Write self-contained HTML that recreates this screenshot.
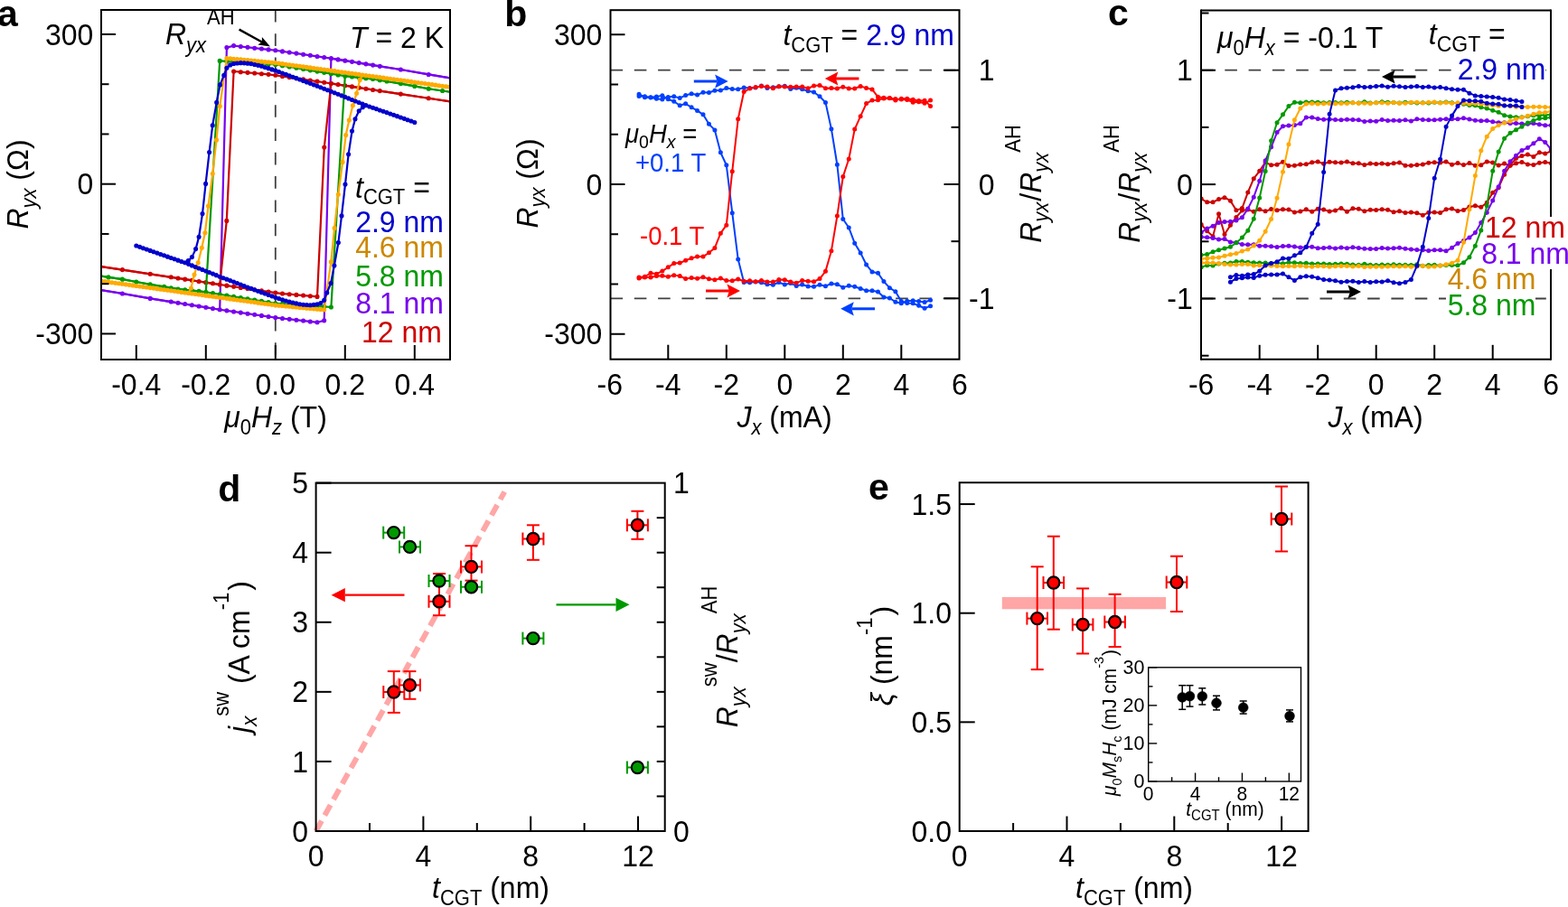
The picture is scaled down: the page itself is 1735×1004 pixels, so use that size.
<!DOCTYPE html>
<html><head><meta charset="utf-8"><title>Figure</title>
<style>html,body{margin:0;padding:0;background:#fff;overflow:hidden}svg{display:block}text{font-family:"Liberation Sans", Arial, Helvetica, sans-serif}</style>
</head><body>
<svg width="1735" height="1004" viewBox="0 0 1735 1004">
<defs><clipPath id="ca"><rect x="112" y="11" width="386" height="387"/></clipPath><clipPath id="cb"><rect x="675.5" y="11.2" width="386" height="386.5"/></clipPath><clipPath id="cc"><rect x="1329" y="11.5" width="387" height="386.3"/></clipPath></defs><rect width="1735" height="1004" fill="#fff"/>
<line x1="304.8" y1="11" x2="304.8" y2="398" stroke="#404040" stroke-width="1.8" stroke-dasharray="13.6 12.7"/>
<g clip-path="url(#ca)">
<polyline points="505,87.57 474.2,82.44 443.4,77.01 420.3,73.34 412.6,72.1 404.9,70.86 397.2,69.62 389.5,68.37 381.8,67.13 374.1,65.89 366.4,64.66 358.7,63.55 351,62.44 343.3,61.32 335.6,60.21 327.9,59.1 320.2,57.99 312.5,56.88 304.8,55.78 297.1,54.92 289.4,54.06 281.7,53.19 274,52.33 266.3,51.47 258.6,50.61 250.9,52.57 243.2,342.74 235.5,341.51 227.8,340.27 220.1,339.03 212.4,337.78 204.7,336.54 197,335.3 189.3,334.06 166.2,330.39 135.4,324.96 104.6,319.83" fill="none" stroke="#7700EE" stroke-width="2.2" stroke-linejoin="round" />
<polyline points="104.6,319.83 135.4,324.96 166.2,330.39 189.3,334.06 197,335.3 204.7,336.54 212.4,337.78 220.1,339.03 227.8,340.27 235.5,341.51 243.2,342.74 250.9,343.85 258.6,344.96 266.3,346.08 274,347.19 281.7,348.3 289.4,349.41 297.1,350.52 304.8,351.62 312.5,352.48 320.2,353.34 327.9,354.21 335.6,355.07 343.3,355.93 351,356.79 358.7,354.83 366.4,64.66 374.1,65.89 381.8,67.13 389.5,68.37 397.2,69.62 404.9,70.86 412.6,72.1 420.3,73.34 443.4,77.01 474.2,82.44 505,87.57" fill="none" stroke="#7700EE" stroke-width="2.2" stroke-linejoin="round" />
<path d="M505 87.57h0M474.2 82.44h0M443.4 77.01h0M420.3 73.34h0M412.6 72.1h0M404.9 70.86h0M397.2 69.62h0M389.5 68.37h0M381.8 67.13h0M374.1 65.89h0M366.4 64.66h0M358.7 63.55h0M351 62.44h0M343.3 61.32h0M335.6 60.21h0M327.9 59.1h0M320.2 57.99h0M312.5 56.88h0M304.8 55.78h0M297.1 54.92h0M289.4 54.06h0M281.7 53.19h0M274 52.33h0M266.3 51.47h0M258.6 50.61h0M250.9 52.57h0M243.2 342.74h0M235.5 341.51h0M227.8 340.27h0M220.1 339.03h0M212.4 337.78h0M204.7 336.54h0M197 335.3h0M189.3 334.06h0M166.2 330.39h0M135.4 324.96h0M104.6 319.83h0M104.6 319.83h0M135.4 324.96h0M166.2 330.39h0M189.3 334.06h0M197 335.3h0M204.7 336.54h0M212.4 337.78h0M220.1 339.03h0M227.8 340.27h0M235.5 341.51h0M243.2 342.74h0M250.9 343.85h0M258.6 344.96h0M266.3 346.08h0M274 347.19h0M281.7 348.3h0M289.4 349.41h0M297.1 350.52h0M304.8 351.62h0M312.5 352.48h0M320.2 353.34h0M327.9 354.21h0M335.6 355.07h0M343.3 355.93h0M351 356.79h0M358.7 354.83h0M366.4 64.66h0M374.1 65.89h0M381.8 67.13h0M389.5 68.37h0M397.2 69.62h0M404.9 70.86h0M412.6 72.1h0M420.3 73.34h0M443.4 77.01h0M474.2 82.44h0M505 87.57h0" stroke="#7700EE" stroke-width="5.1" stroke-linecap="round" fill="none"/>
<polyline points="505,113.44 474.2,108.78 443.4,104.1 420.3,100.6 412.6,99.43 404.9,98.26 397.2,97.09 389.5,95.92 381.8,94.75 374.1,93.58 366.4,92.41 358.7,91.27 351,90.13 343.3,89 335.6,87.86 327.9,86.72 320.2,85.58 312.5,84.45 304.8,83.31 297.1,82.35 289.4,81.68 281.7,81.01 274,80.34 266.3,79.68 258.6,79.01 250.8,244.4 243.2,314.99 235.5,313.82 227.8,312.65 220.1,311.48 212.4,310.31 204.7,309.14 197,307.97 189.3,306.8 166.2,303.3 135.4,298.62 104.6,293.96" fill="none" stroke="#CC0000" stroke-width="2.2" stroke-linejoin="round" />
<polyline points="104.6,293.96 135.4,298.62 166.2,303.3 189.3,306.8 197,307.97 204.7,309.14 212.4,310.31 220.1,311.48 227.8,312.65 235.5,313.82 243.2,314.99 250.9,316.13 258.6,317.27 266.3,318.4 274,319.54 281.7,320.68 289.4,321.82 297.1,322.95 304.8,324.09 312.5,325.05 320.2,325.72 327.9,326.39 335.6,327.06 343.3,327.72 351,328.39 358.8,163 366.4,92.41 374.1,93.58 381.8,94.75 389.5,95.92 397.2,97.09 404.9,98.26 412.6,99.43 420.3,100.6 443.4,104.1 474.2,108.78 505,113.44" fill="none" stroke="#CC0000" stroke-width="2.2" stroke-linejoin="round" />
<path d="M505 113.44h0M474.2 108.78h0M443.4 104.1h0M420.3 100.6h0M412.6 99.43h0M404.9 98.26h0M397.2 97.09h0M389.5 95.92h0M381.8 94.75h0M374.1 93.58h0M366.4 92.41h0M358.7 91.27h0M351 90.13h0M343.3 89h0M335.6 87.86h0M327.9 86.72h0M320.2 85.58h0M312.5 84.45h0M304.8 83.31h0M297.1 82.35h0M289.4 81.68h0M281.7 81.01h0M274 80.34h0M266.3 79.68h0M258.6 79.01h0M250.8 244.4h0M243.2 314.99h0M235.5 313.82h0M227.8 312.65h0M220.1 311.48h0M212.4 310.31h0M204.7 309.14h0M197 307.97h0M189.3 306.8h0M166.2 303.3h0M135.4 298.62h0M104.6 293.96h0M104.6 293.96h0M135.4 298.62h0M166.2 303.3h0M189.3 306.8h0M197 307.97h0M204.7 309.14h0M212.4 310.31h0M220.1 311.48h0M227.8 312.65h0M235.5 313.82h0M243.2 314.99h0M250.9 316.13h0M258.6 317.27h0M266.3 318.4h0M274 319.54h0M281.7 320.68h0M289.4 321.82h0M297.1 322.95h0M304.8 324.09h0M312.5 325.05h0M320.2 325.72h0M327.9 326.39h0M335.6 327.06h0M343.3 327.72h0M351 328.39h0M358.8 163h0M366.4 92.41h0M374.1 93.58h0M381.8 94.75h0M389.5 95.92h0M397.2 97.09h0M404.9 98.26h0M412.6 99.43h0M420.3 100.6h0M443.4 104.1h0M474.2 108.78h0M505 113.44h0" stroke="#CC0000" stroke-width="5.1" stroke-linecap="round" fill="none"/>
<polyline points="505,102.77 489.6,100.52 474.2,98.23 458.8,95.41 443.4,92.6 428,90.02 420.3,88.72 412.6,87.46 404.9,86.64 397.2,85.82 389.5,85.01 381.8,84.18 374.1,82.91 366.4,81.64 358.7,80.37 351,79.1 343.3,77.83 335.6,76.55 327.9,75.28 320.2,74.01 312.5,72.74 304.8,71.49 297.1,70.98 289.4,70.47 281.7,69.96 274,69.45 266.3,68.94 258.6,68.44 250.9,67.93 243.2,67.42 227.8,323.22 220.1,322.39 212.4,321.58 204.7,320.76 197,319.94 189.3,318.68 181.6,317.38 166.2,314.8 150.8,311.99 135.4,309.17 120,306.88 104.6,304.63" fill="none" stroke="#009900" stroke-width="2.2" stroke-linejoin="round" />
<polyline points="104.6,304.63 120,306.88 135.4,309.17 150.8,311.99 166.2,314.8 181.6,317.38 189.3,318.68 197,319.94 204.7,320.76 212.4,321.58 220.1,322.39 227.8,323.22 235.5,324.49 243.2,325.76 250.9,327.03 258.6,328.3 266.3,329.57 274,330.85 281.7,332.12 289.4,333.39 297.1,334.66 304.8,335.91 312.5,336.42 320.2,336.93 327.9,337.44 335.6,337.95 343.3,338.46 351,338.96 358.7,339.47 366.4,339.98 381.8,84.18 389.5,85.01 397.2,85.82 404.9,86.64 412.6,87.46 420.3,88.72 428,90.02 443.4,92.6 458.8,95.41 474.2,98.23 489.6,100.52 505,102.77" fill="none" stroke="#009900" stroke-width="2.2" stroke-linejoin="round" />
<path d="M505 102.77h0M489.6 100.52h0M474.2 98.23h0M458.8 95.41h0M443.4 92.6h0M428 90.02h0M420.3 88.72h0M412.6 87.46h0M404.9 86.64h0M397.2 85.82h0M389.5 85.01h0M381.8 84.18h0M374.1 82.91h0M366.4 81.64h0M358.7 80.37h0M351 79.1h0M343.3 77.83h0M335.6 76.55h0M327.9 75.28h0M320.2 74.01h0M312.5 72.74h0M304.8 71.49h0M297.1 70.98h0M289.4 70.47h0M281.7 69.96h0M274 69.45h0M266.3 68.94h0M258.6 68.44h0M250.9 67.93h0M243.2 67.42h0M227.8 323.22h0M220.1 322.39h0M212.4 321.58h0M204.7 320.76h0M197 319.94h0M189.3 318.68h0M181.6 317.38h0M166.2 314.8h0M150.8 311.99h0M135.4 309.17h0M120 306.88h0M104.6 304.63h0M104.6 304.63h0M120 306.88h0M135.4 309.17h0M150.8 311.99h0M166.2 314.8h0M181.6 317.38h0M189.3 318.68h0M197 319.94h0M204.7 320.76h0M212.4 321.58h0M220.1 322.39h0M227.8 323.22h0M235.5 324.49h0M243.2 325.76h0M250.9 327.03h0M258.6 328.3h0M266.3 329.57h0M274 330.85h0M281.7 332.12h0M289.4 333.39h0M297.1 334.66h0M304.8 335.91h0M312.5 336.42h0M320.2 336.93h0M327.9 337.44h0M335.6 337.95h0M343.3 338.46h0M351 338.96h0M358.7 339.47h0M366.4 339.98h0M381.8 84.18h0M389.5 85.01h0M397.2 85.82h0M404.9 86.64h0M412.6 87.46h0M420.3 88.72h0M428 90.02h0M443.4 92.6h0M458.8 95.41h0M474.2 98.23h0M489.6 100.52h0M505 102.77h0" stroke="#009900" stroke-width="5.1" stroke-linecap="round" fill="none"/>
<polyline points="505,97.39 501.15,96.85 497.3,96.3 493.45,95.77 489.6,95.23 485.75,94.7 481.9,94.16 478.05,93.63 474.2,93.1 470.35,92.56 466.5,92.03 462.65,91.49 458.8,90.96 454.95,90.42 451.1,89.89 447.25,89.35 443.4,88.82 439.55,88.28 435.7,87.75 431.85,87.21 428,86.68 424.15,86.15 420.3,85.61 416.45,85.08 412.6,84.54 408.75,84.01 404.9,83.47 401.05,82.94 397.2,82.4 393.35,81.87 389.5,81.33 385.65,80.8 381.8,80.26 377.95,79.73 374.1,79.2 370.25,78.66 366.4,78.13 362.55,77.59 358.7,77.06 354.85,76.52 351,75.99 347.15,75.45 343.3,74.92 339.45,74.38 335.6,73.85 331.75,73.31 327.9,72.78 324.05,72.25 320.2,71.71 316.35,71.18 312.5,70.64 308.65,70.11 304.8,69.58 300.95,69.21 297.1,68.83 293.25,68.46 289.4,68.08 285.55,67.71 281.7,67.34 277.85,66.96 274,66.59 270.15,66.21 266.3,65.88 262.45,65.54 258.6,65.2 254.75,64.87 250.9,64.53 243.3,117.5 239.5,154.9 235.3,192.2 230.5,228 226.9,257.8 223.3,274.3 219.2,290.7 215,304.1 211.4,319 208.55,324.46 204.7,323.93 200.85,323.39 197,322.86 193.15,322.32 189.3,321.79 185.45,321.25 181.6,320.72 177.75,320.19 173.9,319.65 170.05,319.12 166.2,318.58 162.35,318.05 158.5,317.51 154.65,316.98 150.8,316.44 146.95,315.91 143.1,315.37 139.25,314.84 135.4,314.3 131.55,313.77 127.7,313.24 123.85,312.7 120,312.17 116.15,311.63 112.3,311.1 108.45,310.55 104.6,310.01" fill="none" stroke="#FFAA00" stroke-width="2.2" stroke-linejoin="round" />
<polyline points="104.6,310.01 108.45,310.55 112.3,311.1 116.15,311.63 120,312.17 123.85,312.7 127.7,313.24 131.55,313.77 135.4,314.3 139.25,314.84 143.1,315.37 146.95,315.91 150.8,316.44 154.65,316.98 158.5,317.51 162.35,318.05 166.2,318.58 170.05,319.12 173.9,319.65 177.75,320.19 181.6,320.72 185.45,321.25 189.3,321.79 193.15,322.32 197,322.86 200.85,323.39 204.7,323.93 208.55,324.46 212.4,325 216.25,325.53 220.1,326.07 223.95,326.6 227.8,327.14 231.65,327.67 235.5,328.2 239.35,328.74 243.2,329.27 247.05,329.81 250.9,330.34 254.75,330.88 258.6,331.41 262.45,331.95 266.3,332.48 270.15,333.02 274,333.55 277.85,334.09 281.7,334.62 285.55,335.15 289.4,335.69 293.25,336.22 297.1,336.76 300.95,337.29 304.8,337.82 308.65,338.19 312.5,338.57 316.35,338.94 320.2,339.32 324.05,339.69 327.9,340.06 331.75,340.44 335.6,340.81 339.45,341.19 343.3,341.52 347.15,341.86 351,342.2 354.85,342.53 358.7,342.87 366.3,289.9 370.1,252.5 374.3,215.2 379.1,179.4 382.7,149.6 386.3,133.1 390.4,116.7 394.6,103.3 398.2,88.4 401.05,82.94 404.9,83.47 408.75,84.01 412.6,84.54 416.45,85.08 420.3,85.61 424.15,86.15 428,86.68 431.85,87.21 435.7,87.75 439.55,88.28 443.4,88.82 447.25,89.35 451.1,89.89 454.95,90.42 458.8,90.96 462.65,91.49 466.5,92.03 470.35,92.56 474.2,93.1 478.05,93.63 481.9,94.16 485.75,94.7 489.6,95.23 493.45,95.77 497.3,96.3 501.15,96.85 505,97.39" fill="none" stroke="#FFAA00" stroke-width="2.2" stroke-linejoin="round" />
<path d="M505 97.39h0M501.15 96.85h0M497.3 96.3h0M493.45 95.77h0M489.6 95.23h0M485.75 94.7h0M481.9 94.16h0M478.05 93.63h0M474.2 93.1h0M470.35 92.56h0M466.5 92.03h0M462.65 91.49h0M458.8 90.96h0M454.95 90.42h0M451.1 89.89h0M447.25 89.35h0M443.4 88.82h0M439.55 88.28h0M435.7 87.75h0M431.85 87.21h0M428 86.68h0M424.15 86.15h0M420.3 85.61h0M416.45 85.08h0M412.6 84.54h0M408.75 84.01h0M404.9 83.47h0M401.05 82.94h0M397.2 82.4h0M393.35 81.87h0M389.5 81.33h0M385.65 80.8h0M381.8 80.26h0M377.95 79.73h0M374.1 79.2h0M370.25 78.66h0M366.4 78.13h0M362.55 77.59h0M358.7 77.06h0M354.85 76.52h0M351 75.99h0M347.15 75.45h0M343.3 74.92h0M339.45 74.38h0M335.6 73.85h0M331.75 73.31h0M327.9 72.78h0M324.05 72.25h0M320.2 71.71h0M316.35 71.18h0M312.5 70.64h0M308.65 70.11h0M304.8 69.58h0M300.95 69.21h0M297.1 68.83h0M293.25 68.46h0M289.4 68.08h0M285.55 67.71h0M281.7 67.34h0M277.85 66.96h0M274 66.59h0M270.15 66.21h0M266.3 65.88h0M262.45 65.54h0M258.6 65.2h0M254.75 64.87h0M250.9 64.53h0M243.3 117.5h0M239.5 154.9h0M235.3 192.2h0M230.5 228h0M226.9 257.8h0M223.3 274.3h0M219.2 290.7h0M215 304.1h0M211.4 319h0M208.55 324.46h0M204.7 323.93h0M200.85 323.39h0M197 322.86h0M193.15 322.32h0M189.3 321.79h0M185.45 321.25h0M181.6 320.72h0M177.75 320.19h0M173.9 319.65h0M170.05 319.12h0M166.2 318.58h0M162.35 318.05h0M158.5 317.51h0M154.65 316.98h0M150.8 316.44h0M146.95 315.91h0M143.1 315.37h0M139.25 314.84h0M135.4 314.3h0M131.55 313.77h0M127.7 313.24h0M123.85 312.7h0M120 312.17h0M116.15 311.63h0M112.3 311.1h0M108.45 310.55h0M104.6 310.01h0M104.6 310.01h0M108.45 310.55h0M112.3 311.1h0M116.15 311.63h0M120 312.17h0M123.85 312.7h0M127.7 313.24h0M131.55 313.77h0M135.4 314.3h0M139.25 314.84h0M143.1 315.37h0M146.95 315.91h0M150.8 316.44h0M154.65 316.98h0M158.5 317.51h0M162.35 318.05h0M166.2 318.58h0M170.05 319.12h0M173.9 319.65h0M177.75 320.19h0M181.6 320.72h0M185.45 321.25h0M189.3 321.79h0M193.15 322.32h0M197 322.86h0M200.85 323.39h0M204.7 323.93h0M208.55 324.46h0M212.4 325h0M216.25 325.53h0M220.1 326.07h0M223.95 326.6h0M227.8 327.14h0M231.65 327.67h0M235.5 328.2h0M239.35 328.74h0M243.2 329.27h0M247.05 329.81h0M250.9 330.34h0M254.75 330.88h0M258.6 331.41h0M262.45 331.95h0M266.3 332.48h0M270.15 333.02h0M274 333.55h0M277.85 334.09h0M281.7 334.62h0M285.55 335.15h0M289.4 335.69h0M293.25 336.22h0M297.1 336.76h0M300.95 337.29h0M304.8 337.82h0M308.65 338.19h0M312.5 338.57h0M316.35 338.94h0M320.2 339.32h0M324.05 339.69h0M327.9 340.06h0M331.75 340.44h0M335.6 340.81h0M339.45 341.19h0M343.3 341.52h0M347.15 341.86h0M351 342.2h0M354.85 342.53h0M358.7 342.87h0M366.3 289.9h0M370.1 252.5h0M374.3 215.2h0M379.1 179.4h0M382.7 149.6h0M386.3 133.1h0M390.4 116.7h0M394.6 103.3h0M398.2 88.4h0M401.05 82.94h0M404.9 83.47h0M408.75 84.01h0M412.6 84.54h0M416.45 85.08h0M420.3 85.61h0M424.15 86.15h0M428 86.68h0M431.85 87.21h0M435.7 87.75h0M439.55 88.28h0M443.4 88.82h0M447.25 89.35h0M451.1 89.89h0M454.95 90.42h0M458.8 90.96h0M462.65 91.49h0M466.5 92.03h0M470.35 92.56h0M474.2 93.1h0M478.05 93.63h0M481.9 94.16h0M485.75 94.7h0M489.6 95.23h0M493.45 95.77h0M497.3 96.3h0M501.15 96.85h0M505 97.39h0" stroke="#FFAA00" stroke-width="5.1" stroke-linecap="round" fill="none"/>
<polyline points="458.8,135.43 454.95,134.07 451.1,132.72 447.25,131.37 443.4,130.01 439.55,128.66 435.7,127.3 431.85,125.95 428,124.61 424.15,123.27 420.3,121.94 416.45,120.6 412.6,119.27 408.75,117.93 404.9,116.58 401.05,115.04 397.2,113.51 393.35,111.97 389.5,110.44 385.65,108.9 381.8,107.36 377.95,105.83 374.1,104.29 370.25,102.75 366.4,101.22 362.55,99.72 358.7,98.25 354.85,96.78 351,95.31 347.15,93.84 343.3,92.37 339.45,90.9 335.6,89.43 331.75,88.01 327.9,86.6 324.05,85.19 320.2,83.77 316.35,82.36 312.5,80.95 308.65,79.54 304.8,78.14 300.95,76.9 297.1,75.67 293.25,74.44 289.4,73.26 285.55,72.37 281.7,71.48 277.85,70.6 274,70.16 270.15,69.85 266.3,69.67 262.45,70.06 258.6,70.54 254.75,71.89 250.9,75.2 247.8,83.4 243.5,93.9 239.7,113.4 235.2,138.8 231.6,168.5 227.6,203.4 224,236.6 220.1,262.3 216.6,275.6 212.4,284.6 208.3,288.6 204.7,290.82 200.85,289.47 197,288.13 193.15,286.8 189.3,285.46 185.45,284.13 181.6,282.79 177.75,281.45 173.9,280.1 170.05,278.74 166.2,277.39 162.35,276.03 158.5,274.68 154.65,273.33 150.8,271.97" fill="none" stroke="#0000CC" stroke-width="2.2" stroke-linejoin="round" />
<polyline points="150.8,271.97 154.65,273.33 158.5,274.68 162.35,276.03 166.2,277.39 170.05,278.74 173.9,280.1 177.75,281.45 181.6,282.79 185.45,284.13 189.3,285.46 193.15,286.8 197,288.13 200.85,289.47 204.7,290.82 208.55,292.36 212.4,293.89 216.25,295.43 220.1,296.96 223.95,298.5 227.8,300.04 231.65,301.57 235.5,303.11 239.35,304.65 243.2,306.18 247.05,307.68 250.9,309.15 254.75,310.62 258.6,312.09 262.45,313.56 266.3,315.03 270.15,316.5 274,317.97 277.85,319.39 281.7,320.8 285.55,322.21 289.4,323.63 293.25,325.04 297.1,326.45 300.95,327.86 304.8,329.26 308.65,330.5 312.5,331.73 316.35,332.96 320.2,334.14 324.05,335.03 327.9,335.92 331.75,336.8 335.6,337.24 339.45,337.55 343.3,337.73 347.15,337.34 351,336.86 354.85,335.51 358.7,332.2 361.8,324 366.1,313.5 369.9,294 374.4,268.6 378,238.9 382,204 385.6,170.8 389.5,145.1 393,131.8 397.2,122.8 401.3,118.8 404.9,116.58 408.75,117.93 412.6,119.27 416.45,120.6 420.3,121.94 424.15,123.27 428,124.61 431.85,125.95 435.7,127.3 439.55,128.66 443.4,130.01 447.25,131.37 451.1,132.72 454.95,134.07 458.8,135.43" fill="none" stroke="#0000CC" stroke-width="2.2" stroke-linejoin="round" />
<path d="M458.8 135.43h0M454.95 134.07h0M451.1 132.72h0M447.25 131.37h0M443.4 130.01h0M439.55 128.66h0M435.7 127.3h0M431.85 125.95h0M428 124.61h0M424.15 123.27h0M420.3 121.94h0M416.45 120.6h0M412.6 119.27h0M408.75 117.93h0M404.9 116.58h0M401.05 115.04h0M397.2 113.51h0M393.35 111.97h0M389.5 110.44h0M385.65 108.9h0M381.8 107.36h0M377.95 105.83h0M374.1 104.29h0M370.25 102.75h0M366.4 101.22h0M362.55 99.72h0M358.7 98.25h0M354.85 96.78h0M351 95.31h0M347.15 93.84h0M343.3 92.37h0M339.45 90.9h0M335.6 89.43h0M331.75 88.01h0M327.9 86.6h0M324.05 85.19h0M320.2 83.77h0M316.35 82.36h0M312.5 80.95h0M308.65 79.54h0M304.8 78.14h0M300.95 76.9h0M297.1 75.67h0M293.25 74.44h0M289.4 73.26h0M285.55 72.37h0M281.7 71.48h0M277.85 70.6h0M274 70.16h0M270.15 69.85h0M266.3 69.67h0M262.45 70.06h0M258.6 70.54h0M254.75 71.89h0M250.9 75.2h0M247.8 83.4h0M243.5 93.9h0M239.7 113.4h0M235.2 138.8h0M231.6 168.5h0M227.6 203.4h0M224 236.6h0M220.1 262.3h0M216.6 275.6h0M212.4 284.6h0M208.3 288.6h0M204.7 290.82h0M200.85 289.47h0M197 288.13h0M193.15 286.8h0M189.3 285.46h0M185.45 284.13h0M181.6 282.79h0M177.75 281.45h0M173.9 280.1h0M170.05 278.74h0M166.2 277.39h0M162.35 276.03h0M158.5 274.68h0M154.65 273.33h0M150.8 271.97h0M150.8 271.97h0M154.65 273.33h0M158.5 274.68h0M162.35 276.03h0M166.2 277.39h0M170.05 278.74h0M173.9 280.1h0M177.75 281.45h0M181.6 282.79h0M185.45 284.13h0M189.3 285.46h0M193.15 286.8h0M197 288.13h0M200.85 289.47h0M204.7 290.82h0M208.55 292.36h0M212.4 293.89h0M216.25 295.43h0M220.1 296.96h0M223.95 298.5h0M227.8 300.04h0M231.65 301.57h0M235.5 303.11h0M239.35 304.65h0M243.2 306.18h0M247.05 307.68h0M250.9 309.15h0M254.75 310.62h0M258.6 312.09h0M262.45 313.56h0M266.3 315.03h0M270.15 316.5h0M274 317.97h0M277.85 319.39h0M281.7 320.8h0M285.55 322.21h0M289.4 323.63h0M293.25 325.04h0M297.1 326.45h0M300.95 327.86h0M304.8 329.26h0M308.65 330.5h0M312.5 331.73h0M316.35 332.96h0M320.2 334.14h0M324.05 335.03h0M327.9 335.92h0M331.75 336.8h0M335.6 337.24h0M339.45 337.55h0M343.3 337.73h0M347.15 337.34h0M351 336.86h0M354.85 335.51h0M358.7 332.2h0M361.8 324h0M366.1 313.5h0M369.9 294h0M374.4 268.6h0M378 238.9h0M382 204h0M385.6 170.8h0M389.5 145.1h0M393 131.8h0M397.2 122.8h0M401.3 118.8h0M404.9 116.58h0M408.75 117.93h0M412.6 119.27h0M416.45 120.6h0M420.3 121.94h0M424.15 123.27h0M428 124.61h0M431.85 125.95h0M435.7 127.3h0M439.55 128.66h0M443.4 130.01h0M447.25 131.37h0M451.1 132.72h0M454.95 134.07h0M458.8 135.43h0" stroke="#0000CC" stroke-width="5.1" stroke-linecap="round" fill="none"/>
</g>
<rect x="112" y="11" width="386" height="387" fill="none" stroke="#000" stroke-width="2"/>
<line x1="112" y1="369.45" x2="128" y2="369.45" stroke="#000" stroke-width="2" />
<line x1="112" y1="203.7" x2="128" y2="203.7" stroke="#000" stroke-width="2" />
<line x1="112" y1="37.95" x2="128" y2="37.95" stroke="#000" stroke-width="2" />
<line x1="112" y1="314.2" x2="120.5" y2="314.2" stroke="#000" stroke-width="2" />
<line x1="112" y1="258.95" x2="120.5" y2="258.95" stroke="#000" stroke-width="2" />
<line x1="112" y1="148.45" x2="120.5" y2="148.45" stroke="#000" stroke-width="2" />
<line x1="112" y1="93.2" x2="120.5" y2="93.2" stroke="#000" stroke-width="2" />
<line x1="150.8" y1="398" x2="150.8" y2="382" stroke="#000" stroke-width="2" />
<line x1="227.8" y1="398" x2="227.8" y2="382" stroke="#000" stroke-width="2" />
<line x1="304.8" y1="398" x2="304.8" y2="382" stroke="#000" stroke-width="2" />
<line x1="381.8" y1="398" x2="381.8" y2="382" stroke="#000" stroke-width="2" />
<line x1="458.8" y1="398" x2="458.8" y2="382" stroke="#000" stroke-width="2" />
<text x="103.3" y="49.55" font-size="32" text-anchor="end" fill="#000" font-weight="normal" font-style="normal" transform="translate(0 -2.97) scale(1 1.06)" >300</text>
<text x="103.3" y="215.3" font-size="32" text-anchor="end" fill="#000" font-weight="normal" font-style="normal" transform="translate(0 -12.92) scale(1 1.06)" >0</text>
<text x="103.3" y="381.05" font-size="32" text-anchor="end" fill="#000" font-weight="normal" font-style="normal" transform="translate(0 -22.86) scale(1 1.06)" >-300</text>
<text x="150.8" y="436.8" font-size="32" text-anchor="middle" fill="#000" font-weight="normal" font-style="normal" transform="translate(0 -26.21) scale(1 1.06)" >-0.4</text>
<text x="227.8" y="436.8" font-size="32" text-anchor="middle" fill="#000" font-weight="normal" font-style="normal" transform="translate(0 -26.21) scale(1 1.06)" >-0.2</text>
<text x="304.8" y="436.8" font-size="32" text-anchor="middle" fill="#000" font-weight="normal" font-style="normal" transform="translate(0 -26.21) scale(1 1.06)" >0.0</text>
<text x="381.8" y="436.8" font-size="32" text-anchor="middle" fill="#000" font-weight="normal" font-style="normal" transform="translate(0 -26.21) scale(1 1.06)" >0.2</text>
<text x="458.8" y="436.8" font-size="32" text-anchor="middle" fill="#000" font-weight="normal" font-style="normal" transform="translate(0 -26.21) scale(1 1.06)" >0.4</text>
<text x="305" y="472.6" font-size="32" text-anchor="middle" fill="#000" font-weight="normal" transform="translate(0 -28.36) scale(1 1.06)"><tspan font-style="italic">μ</tspan><tspan dy="8" font-size="22">0</tspan><tspan dy="-8" font-style="italic">H</tspan><tspan dy="8" font-size="22" font-style="italic">z</tspan><tspan dy="-8"> (T)</tspan></text>
<text x="31.5" y="204" font-size="32" text-anchor="middle" fill="#000" font-weight="normal" transform="rotate(-90 31.5 204) translate(0 -12.24) scale(1 1.06)"><tspan font-style="italic">R</tspan><tspan dy="8" font-size="22" font-style="italic">yx</tspan><tspan dy="-8"> (Ω)</tspan></text>
<text x="-3" y="28.8" font-size="41" text-anchor="start" fill="#000" font-weight="bold" font-style="normal" >a</text>
<text x="491" y="53.3" font-size="32" text-anchor="end" fill="#000" font-weight="normal" font-style="normal" transform="translate(0 -3.2) scale(1 1.06)" ><tspan font-style="italic">T</tspan> = 2 K</text>
<text x="183" y="49.5" font-size="32" text-anchor="start" fill="#000" font-weight="normal" transform="translate(0 -2.97) scale(1 1.06)"><tspan font-style="italic">R</tspan><tspan dy="8" font-size="22" font-style="italic">yx</tspan><tspan dy="-29" dx="1" font-size="22">AH</tspan></text>
<line x1="264.6" y1="32.6" x2="289.8" y2="46.44" stroke="#000" stroke-width="2.4" />
<polygon points="299,51.5 285.3,49.45 289.8,46.44 289.92,41.03" fill="#000"/>
<text x="393" y="218.7" font-size="32" text-anchor="start" fill="#000" font-weight="normal" transform="translate(0 -13.12) scale(1 1.06)"><tspan font-style="italic">t</tspan><tspan dy="7" font-size="22">CGT</tspan><tspan dy="-7"> =</tspan></text>
<text x="491" y="256.7" font-size="32" text-anchor="end" fill="#0000CC" font-weight="normal" font-style="normal" transform="translate(0 -15.4) scale(1 1.06)" >2.9 nm</text>
<text x="491" y="285.5" font-size="32" text-anchor="end" fill="#CC8800" font-weight="normal" font-style="normal" transform="translate(0 -17.13) scale(1 1.06)" >4.6 nm</text>
<text x="491" y="317" font-size="32" text-anchor="end" fill="#009900" font-weight="normal" font-style="normal" transform="translate(0 -19.02) scale(1 1.06)" >5.8 nm</text>
<text x="491" y="346.8" font-size="32" text-anchor="end" fill="#7700EE" font-weight="normal" font-style="normal" transform="translate(0 -20.81) scale(1 1.06)" >8.1 nm</text>
<text x="489" y="378.9" font-size="32" text-anchor="end" fill="#CC0000" font-weight="normal" font-style="normal" transform="translate(0 -22.73) scale(1 1.06)" >12 nm</text>
<line x1="675.5" y1="77.7" x2="1061.5" y2="77.7" stroke="#404040" stroke-width="1.8" stroke-dasharray="13.6 12.7"/>
<line x1="675.5" y1="330.3" x2="1061.5" y2="330.3" stroke="#404040" stroke-width="1.8" stroke-dasharray="13.6 12.7"/>
<g clip-path="url(#cb)">
<polyline points="707.05,104.16 713.5,107.73 719.95,108.02 726.4,109.37 732.85,109.94 739.3,107.41 745.75,106.63 752.2,108.61 758.65,105.47 765.1,103.77 771.55,105.05 778,102.19 784.45,102.54 790.9,100.3 797.35,100.08 803.8,97.52 810.25,98.47 816.7,98.82 823.15,97.1 829.6,97.4 836.05,97.12 842.5,94.93 848.95,97.43 855.4,96.83 861.85,95.86 868.3,95.14 874.75,98.41 881.2,97.25 887.65,98.82 894.1,100.68 900.55,102.01 907,106.72 913.45,113.41 919.9,142.72 926.35,182.22 932.8,242.52 939.25,251.99 945.7,269.14 952.15,279.88 958.6,292.98 965.05,301.1 971.5,302.24 977.95,311.59 984.4,318.7 990.85,322.76 997.3,333.42 1003.75,335.55 1010.2,335.83 1016.65,338.25 1023.1,341.23 1029.55,338.64" fill="none" stroke="#0040FF" stroke-width="2" stroke-linejoin="round" />
<path d="M707.05 104.16h0M713.5 107.73h0M719.95 108.02h0M726.4 109.37h0M732.85 109.94h0M739.3 107.41h0M745.75 106.63h0M752.2 108.61h0M758.65 105.47h0M765.1 103.77h0M771.55 105.05h0M778 102.19h0M784.45 102.54h0M790.9 100.3h0M797.35 100.08h0M803.8 97.52h0M810.25 98.47h0M816.7 98.82h0M823.15 97.1h0M829.6 97.4h0M836.05 97.12h0M842.5 94.93h0M848.95 97.43h0M855.4 96.83h0M861.85 95.86h0M868.3 95.14h0M874.75 98.41h0M881.2 97.25h0M887.65 98.82h0M894.1 100.68h0M900.55 102.01h0M907 106.72h0M913.45 113.41h0M919.9 142.72h0M926.35 182.22h0M932.8 242.52h0M939.25 251.99h0M945.7 269.14h0M952.15 279.88h0M958.6 292.98h0M965.05 301.1h0M971.5 302.24h0M977.95 311.59h0M984.4 318.7h0M990.85 322.76h0M997.3 333.42h0M1003.75 335.55h0M1010.2 335.83h0M1016.65 338.25h0M1023.1 341.23h0M1029.55 338.64h0" stroke="#0040FF" stroke-width="5" stroke-linecap="round" fill="none"/>
<polyline points="707.05,106.41 713.5,106.71 719.95,107.76 726.4,107.11 732.85,105.78 739.3,109.87 745.75,112.22 752.2,116.76 758.65,114.78 765.1,118.79 771.55,122.42 778,126.8 784.45,137.34 790.9,143.91 797.35,168.8 803.8,182.79 810.25,235.73 816.7,287.04 823.15,312.6 829.6,312.83 836.05,312.11 842.5,312.82 848.95,314.69 855.4,315.23 861.85,312.51 868.3,315.08 874.75,313.54 881.2,316.39 887.65,314.99 894.1,316.97 900.55,317.33 907,315.29 913.45,316.73 919.9,313.94 926.35,314.68 932.8,318.13 939.25,316.36 945.7,317.21 952.15,319.45 958.6,321.67 965.05,321.66 971.5,322.9 977.95,328.95 984.4,330.03 990.85,334.19 997.3,335.8 1003.75,333.25 1010.2,332.87 1016.65,333.58 1023.1,334.49 1029.55,332.23" fill="none" stroke="#0040FF" stroke-width="2" stroke-linejoin="round" />
<path d="M707.05 106.41h0M713.5 106.71h0M719.95 107.76h0M726.4 107.11h0M732.85 105.78h0M739.3 109.87h0M745.75 112.22h0M752.2 116.76h0M758.65 114.78h0M765.1 118.79h0M771.55 122.42h0M778 126.8h0M784.45 137.34h0M790.9 143.91h0M797.35 168.8h0M803.8 182.79h0M810.25 235.73h0M816.7 287.04h0M823.15 312.6h0M829.6 312.83h0M836.05 312.11h0M842.5 312.82h0M848.95 314.69h0M855.4 315.23h0M861.85 312.51h0M868.3 315.08h0M874.75 313.54h0M881.2 316.39h0M887.65 314.99h0M894.1 316.97h0M900.55 317.33h0M907 315.29h0M913.45 316.73h0M919.9 313.94h0M926.35 314.68h0M932.8 318.13h0M939.25 316.36h0M945.7 317.21h0M952.15 319.45h0M958.6 321.67h0M965.05 321.66h0M971.5 322.9h0M977.95 328.95h0M984.4 330.03h0M990.85 334.19h0M997.3 335.8h0M1003.75 333.25h0M1010.2 332.87h0M1016.65 333.58h0M1023.1 334.49h0M1029.55 332.23h0" stroke="#0040FF" stroke-width="5" stroke-linecap="round" fill="none"/>
<polyline points="707.05,307.98 713.5,307.07 719.95,307.09 726.4,305.53 732.85,305.25 739.3,306.29 745.75,304.63 752.2,305.5 758.65,308.59 765.1,307.59 771.55,308.28 778,306.77 784.45,308.66 790.9,309.68 797.35,308.1 803.8,310.54 810.25,310.82 816.7,308.97 823.15,311.23 829.6,310.87 836.05,311.71 842.5,310.59 848.95,311.93 855.4,312.11 861.85,309.6 868.3,309.8 874.75,312.08 881.2,313.16 887.65,310.57 894.1,311.29 900.55,311.75 907,308.59 913.45,300.34 919.9,277.69 926.35,239.05 932.8,195.51 939.25,176 945.7,143.1 952.15,128.71 958.6,114.59 965.05,110.93 971.5,110.76 977.95,108.91 984.4,108.81 990.85,111.12 997.3,109.3 1003.75,109.33 1010.2,110.36 1016.65,111.43 1023.1,111.14 1029.55,117.38" fill="none" stroke="#FF0000" stroke-width="2" stroke-linejoin="round" />
<path d="M707.05 307.98h0M713.5 307.07h0M719.95 307.09h0M726.4 305.53h0M732.85 305.25h0M739.3 306.29h0M745.75 304.63h0M752.2 305.5h0M758.65 308.59h0M765.1 307.59h0M771.55 308.28h0M778 306.77h0M784.45 308.66h0M790.9 309.68h0M797.35 308.1h0M803.8 310.54h0M810.25 310.82h0M816.7 308.97h0M823.15 311.23h0M829.6 310.87h0M836.05 311.71h0M842.5 310.59h0M848.95 311.93h0M855.4 312.11h0M861.85 309.6h0M868.3 309.8h0M874.75 312.08h0M881.2 313.16h0M887.65 310.57h0M894.1 311.29h0M900.55 311.75h0M907 308.59h0M913.45 300.34h0M919.9 277.69h0M926.35 239.05h0M932.8 195.51h0M939.25 176h0M945.7 143.1h0M952.15 128.71h0M958.6 114.59h0M965.05 110.93h0M971.5 110.76h0M977.95 108.91h0M984.4 108.81h0M990.85 111.12h0M997.3 109.3h0M1003.75 109.33h0M1010.2 110.36h0M1016.65 111.43h0M1023.1 111.14h0M1029.55 117.38h0" stroke="#FF0000" stroke-width="5" stroke-linecap="round" fill="none"/>
<polyline points="707.05,307.01 713.5,306.26 719.95,302.3 726.4,303.18 732.85,300.1 739.3,295.78 745.75,291.55 752.2,291.11 758.65,288.25 765.1,285.87 771.55,283.89 778,284.12 784.45,279.71 790.9,274.42 797.35,258.17 803.8,249.17 810.25,189.68 816.7,131.79 823.15,101.57 829.6,98.1 836.05,96.43 842.5,95.56 848.95,96.05 855.4,97.77 861.85,95.79 868.3,95.97 874.75,96.16 881.2,96.11 887.65,96.02 894.1,97.8 900.55,94.99 907,94.39 913.45,97.72 919.9,97.54 926.35,98.03 932.8,96.14 939.25,98.11 945.7,98.04 952.15,95.5 958.6,97.38 965.05,98.97 971.5,107.28 977.95,108.17 984.4,108.44 990.85,109.54 997.3,110.05 1003.75,110.4 1010.2,113.23 1016.65,112.85 1023.1,114.29 1029.55,111.09" fill="none" stroke="#FF0000" stroke-width="2" stroke-linejoin="round" />
<path d="M707.05 307.01h0M713.5 306.26h0M719.95 302.3h0M726.4 303.18h0M732.85 300.1h0M739.3 295.78h0M745.75 291.55h0M752.2 291.11h0M758.65 288.25h0M765.1 285.87h0M771.55 283.89h0M778 284.12h0M784.45 279.71h0M790.9 274.42h0M797.35 258.17h0M803.8 249.17h0M810.25 189.68h0M816.7 131.79h0M823.15 101.57h0M829.6 98.1h0M836.05 96.43h0M842.5 95.56h0M848.95 96.05h0M855.4 97.77h0M861.85 95.79h0M868.3 95.97h0M874.75 96.16h0M881.2 96.11h0M887.65 96.02h0M894.1 97.8h0M900.55 94.99h0M907 94.39h0M913.45 97.72h0M919.9 97.54h0M926.35 98.03h0M932.8 96.14h0M939.25 98.11h0M945.7 98.04h0M952.15 95.5h0M958.6 97.38h0M965.05 98.97h0M971.5 107.28h0M977.95 108.17h0M984.4 108.44h0M990.85 109.54h0M997.3 110.05h0M1003.75 110.4h0M1010.2 113.23h0M1016.65 112.85h0M1023.1 114.29h0M1029.55 111.09h0" stroke="#FF0000" stroke-width="5" stroke-linecap="round" fill="none"/>
</g>
<rect x="675.5" y="11.2" width="386" height="386.5" fill="none" stroke="#000" stroke-width="2"/>
<line x1="675.5" y1="369.75" x2="691.5" y2="369.75" stroke="#000" stroke-width="2" />
<line x1="675.5" y1="204" x2="691.5" y2="204" stroke="#000" stroke-width="2" />
<line x1="675.5" y1="38.25" x2="691.5" y2="38.25" stroke="#000" stroke-width="2" />
<line x1="675.5" y1="314.5" x2="684" y2="314.5" stroke="#000" stroke-width="2" />
<line x1="675.5" y1="259.25" x2="684" y2="259.25" stroke="#000" stroke-width="2" />
<line x1="675.5" y1="148.75" x2="684" y2="148.75" stroke="#000" stroke-width="2" />
<line x1="675.5" y1="93.5" x2="684" y2="93.5" stroke="#000" stroke-width="2" />
<line x1="1061.5" y1="330.3" x2="1044.5" y2="330.3" stroke="#000" stroke-width="2" />
<line x1="1061.5" y1="204" x2="1044.5" y2="204" stroke="#000" stroke-width="2" />
<line x1="1061.5" y1="77.7" x2="1044.5" y2="77.7" stroke="#000" stroke-width="2" />
<line x1="1061.5" y1="267.15" x2="1052.5" y2="267.15" stroke="#000" stroke-width="2" />
<line x1="1061.5" y1="140.85" x2="1052.5" y2="140.85" stroke="#000" stroke-width="2" />
<line x1="739.3" y1="397.7" x2="739.3" y2="381.7" stroke="#000" stroke-width="2" />
<line x1="803.8" y1="397.7" x2="803.8" y2="381.7" stroke="#000" stroke-width="2" />
<line x1="868.3" y1="397.7" x2="868.3" y2="381.7" stroke="#000" stroke-width="2" />
<line x1="932.8" y1="397.7" x2="932.8" y2="381.7" stroke="#000" stroke-width="2" />
<line x1="997.3" y1="397.7" x2="997.3" y2="381.7" stroke="#000" stroke-width="2" />
<text x="666.3" y="49.85" font-size="32" text-anchor="end" fill="#000" font-weight="normal" font-style="normal" transform="translate(0 -2.99) scale(1 1.06)" >300</text>
<text x="666.3" y="215.6" font-size="32" text-anchor="end" fill="#000" font-weight="normal" font-style="normal" transform="translate(0 -12.94) scale(1 1.06)" >0</text>
<text x="666.3" y="381.35" font-size="32" text-anchor="end" fill="#000" font-weight="normal" font-style="normal" transform="translate(0 -22.88) scale(1 1.06)" >-300</text>
<text x="1100.5" y="89.3" font-size="32" text-anchor="end" fill="#000" font-weight="normal" font-style="normal" transform="translate(0 -5.36) scale(1 1.06)" >1</text>
<text x="1100.5" y="215.6" font-size="32" text-anchor="end" fill="#000" font-weight="normal" font-style="normal" transform="translate(0 -12.94) scale(1 1.06)" >0</text>
<text x="1100.5" y="341.9" font-size="32" text-anchor="end" fill="#000" font-weight="normal" font-style="normal" transform="translate(0 -20.51) scale(1 1.06)" >-1</text>
<text x="674.8" y="436.8" font-size="32" text-anchor="middle" fill="#000" font-weight="normal" font-style="normal" transform="translate(0 -26.21) scale(1 1.06)" >-6</text>
<text x="739.3" y="436.8" font-size="32" text-anchor="middle" fill="#000" font-weight="normal" font-style="normal" transform="translate(0 -26.21) scale(1 1.06)" >-4</text>
<text x="803.8" y="436.8" font-size="32" text-anchor="middle" fill="#000" font-weight="normal" font-style="normal" transform="translate(0 -26.21) scale(1 1.06)" >-2</text>
<text x="868.3" y="436.8" font-size="32" text-anchor="middle" fill="#000" font-weight="normal" font-style="normal" transform="translate(0 -26.21) scale(1 1.06)" >0</text>
<text x="932.8" y="436.8" font-size="32" text-anchor="middle" fill="#000" font-weight="normal" font-style="normal" transform="translate(0 -26.21) scale(1 1.06)" >2</text>
<text x="997.3" y="436.8" font-size="32" text-anchor="middle" fill="#000" font-weight="normal" font-style="normal" transform="translate(0 -26.21) scale(1 1.06)" >4</text>
<text x="1061.8" y="436.8" font-size="32" text-anchor="middle" fill="#000" font-weight="normal" font-style="normal" transform="translate(0 -26.21) scale(1 1.06)" >6</text>
<text x="868" y="472.6" font-size="32" text-anchor="middle" fill="#000" font-weight="normal" transform="translate(0 -28.36) scale(1 1.06)"><tspan font-style="italic">J</tspan><tspan dy="8" font-size="22" font-style="italic">x</tspan><tspan dy="-8"> (mA)</tspan></text>
<text x="595" y="203" font-size="32" text-anchor="middle" fill="#000" font-weight="normal" transform="rotate(-90 595 203) translate(0 -12.18) scale(1 1.06)"><tspan font-style="italic">R</tspan><tspan dy="8" font-size="22" font-style="italic">yx</tspan><tspan dy="-8"> (Ω)</tspan></text>
<text x="1152" y="203.5" font-size="32" text-anchor="middle" fill="#000" font-weight="normal" transform="rotate(-90 1152 203.5) translate(0 -12.21) scale(1 1.06)"><tspan font-style="italic">R</tspan><tspan dy="8" font-size="22" font-style="italic">yx</tspan><tspan dy="-8" dx="1">/</tspan><tspan font-style="italic">R</tspan><tspan dy="8" font-size="22" font-style="italic">yx</tspan><tspan dy="-30" font-size="22">AH</tspan></text>
<text x="558.3" y="29" font-size="41" text-anchor="start" fill="#000" font-weight="bold" font-style="normal" >b</text>
<text x="1056" y="50.3" font-size="32" text-anchor="end" fill="#000" font-weight="normal" transform="translate(0 -3.02) scale(1 1.06)"><tspan font-style="italic">t</tspan><tspan dy="7" font-size="22">CGT</tspan><tspan dy="-7"> = </tspan><tspan fill="#0000CC">2.9 nm</tspan></text>
<text x="692" y="158" font-size="27.5" text-anchor="start" fill="#000" font-weight="normal" transform="translate(0 -9.48) scale(1 1.06)"><tspan font-style="italic">μ</tspan><tspan dy="6" font-size="19.5">0</tspan><tspan dy="-6" font-style="italic">H</tspan><tspan dy="6" font-size="19.5" font-style="italic">x</tspan><tspan dy="-6"> =</tspan></text>
<text x="703" y="189.6" font-size="27.5" text-anchor="start" fill="#0040FF" font-weight="normal" font-style="normal" transform="translate(0 -11.38) scale(1 1.06)" >+0.1 T</text>
<text x="708" y="271" font-size="27.5" text-anchor="start" fill="#FF0000" font-weight="normal" font-style="normal" transform="translate(0 -16.26) scale(1 1.06)" >-0.1 T</text>
<line x1="767.8" y1="90" x2="793.6" y2="90" stroke="#0040FF" stroke-width="3" />
<polygon points="805.7,90 791.1,97.6 793.6,90 791.1,82.4" fill="#0040FF"/>
<line x1="950.4" y1="87" x2="924.9" y2="87" stroke="#FF0000" stroke-width="3" />
<polygon points="912.8,87 927.4,79.4 924.9,87 927.4,94.6" fill="#FF0000"/>
<line x1="781" y1="322" x2="806.9" y2="322" stroke="#FF0000" stroke-width="3" />
<polygon points="819,322 804.4,329.6 806.9,322 804.4,314.4" fill="#FF0000"/>
<line x1="968" y1="341.8" x2="942.3" y2="341.8" stroke="#0040FF" stroke-width="3" />
<polygon points="930.2,341.8 944.8,334.2 942.3,341.8 944.8,349.4" fill="#0040FF"/>
<line x1="1329" y1="77.7" x2="1716" y2="77.7" stroke="#404040" stroke-width="1.8" stroke-dasharray="13.6 12.7"/>
<line x1="1329" y1="330.5" x2="1716" y2="330.5" stroke="#404040" stroke-width="1.8" stroke-dasharray="13.6 12.7"/>
<g clip-path="url(#cc)">
<polyline points="1322.75,217.49 1329.2,220.07 1335.65,223.79 1342.1,223.79 1348.55,220.49 1355,218.7 1361.45,222.17 1367.9,232.63 1374.35,230.62 1380.8,212.89 1387.25,197.66 1393.7,189.3 1400.15,179.67 1406.6,182.74 1413.05,182.2 1419.5,179.31 1425.95,183.42 1432.4,183.32 1438.85,181.92 1445.3,181.73 1451.75,179.69 1458.2,179.03 1464.65,181.27 1471.1,179.18 1477.55,179.73 1484,179.93 1490.45,178.97 1496.9,180.85 1503.35,180.74 1509.8,182.51 1516.25,181.08 1522.7,181.62 1529.15,181 1535.6,181.71 1542.05,180.81 1548.5,180.02 1554.95,183.19 1561.4,183.18 1567.85,182.5 1574.3,181.91 1580.75,180.19 1587.2,179.81 1593.65,180.07 1600.1,179.11 1606.55,182.19 1613,180.61 1619.45,182.59 1625.9,180.59 1632.35,183.13 1638.8,182.66 1645.25,178.96 1651.7,179.9 1658.15,183.01 1664.6,181.09 1671.05,183.36 1677.5,180.82 1683.95,179.41 1690.4,181.88 1696.85,182.56 1703.3,180.34 1709.75,179.56 1716.2,180.66 1722.65,183.46" fill="none" stroke="#CC0000" stroke-width="2" stroke-linejoin="round" />
<path d="M1322.75 217.49h0M1329.2 220.07h0M1335.65 223.79h0M1342.1 223.79h0M1348.55 220.49h0M1355 218.7h0M1361.45 222.17h0M1367.9 232.63h0M1374.35 230.62h0M1380.8 212.89h0M1387.25 197.66h0M1393.7 189.3h0M1400.15 179.67h0M1406.6 182.74h0M1413.05 182.2h0M1419.5 179.31h0M1425.95 183.42h0M1432.4 183.32h0M1438.85 181.92h0M1445.3 181.73h0M1451.75 179.69h0M1458.2 179.03h0M1464.65 181.27h0M1471.1 179.18h0M1477.55 179.73h0M1484 179.93h0M1490.45 178.97h0M1496.9 180.85h0M1503.35 180.74h0M1509.8 182.51h0M1516.25 181.08h0M1522.7 181.62h0M1529.15 181h0M1535.6 181.71h0M1542.05 180.81h0M1548.5 180.02h0M1554.95 183.19h0M1561.4 183.18h0M1567.85 182.5h0M1574.3 181.91h0M1580.75 180.19h0M1587.2 179.81h0M1593.65 180.07h0M1600.1 179.11h0M1606.55 182.19h0M1613 180.61h0M1619.45 182.59h0M1625.9 180.59h0M1632.35 183.13h0M1638.8 182.66h0M1645.25 178.96h0M1651.7 179.9h0M1658.15 183.01h0M1664.6 181.09h0M1671.05 183.36h0M1677.5 180.82h0M1683.95 179.41h0M1690.4 181.88h0M1696.85 182.56h0M1703.3 180.34h0M1709.75 179.56h0M1716.2 180.66h0M1722.65 183.46h0" stroke="#CC0000" stroke-width="5" stroke-linecap="round" fill="none"/>
<polyline points="1322.75,244.67 1329.2,248.47 1335.65,255.66 1342.1,261.64 1348.55,236.81 1355,259.41 1361.45,249.36 1367.9,240.43 1374.35,233.07 1380.8,231.94 1387.25,234.32 1393.7,231.68 1400.15,233.86 1406.6,231.46 1413.05,232.72 1419.5,231.73 1425.95,231.9 1432.4,234.91 1438.85,234.09 1445.3,231.81 1451.75,234.29 1458.2,231.24 1464.65,231.97 1471.1,233.92 1477.55,232.9 1484,230.44 1490.45,234.27 1496.9,230.78 1503.35,231.13 1509.8,233.76 1516.25,232.17 1522.7,232.4 1529.15,231.79 1535.6,232.23 1542.05,234.76 1548.5,233.64 1554.95,235.58 1561.4,234.94 1567.85,235.67 1574.3,238.14 1580.75,235.33 1587.2,235 1593.65,235.57 1600.1,231.83 1606.55,230.99 1613,233.58 1619.45,232.46 1625.9,229.01 1632.35,227.78 1638.8,229.23 1645.25,224.33 1651.7,213.14 1658.15,207.72 1664.6,193.18 1671.05,182.91 1677.5,175.35 1683.95,172.53 1690.4,170.88 1696.85,173.42 1703.3,168.72 1709.75,170.04 1716.2,167.37 1722.65,169.17" fill="none" stroke="#CC0000" stroke-width="2" stroke-linejoin="round" />
<path d="M1322.75 244.67h0M1329.2 248.47h0M1335.65 255.66h0M1342.1 261.64h0M1348.55 236.81h0M1355 259.41h0M1361.45 249.36h0M1367.9 240.43h0M1374.35 233.07h0M1380.8 231.94h0M1387.25 234.32h0M1393.7 231.68h0M1400.15 233.86h0M1406.6 231.46h0M1413.05 232.72h0M1419.5 231.73h0M1425.95 231.9h0M1432.4 234.91h0M1438.85 234.09h0M1445.3 231.81h0M1451.75 234.29h0M1458.2 231.24h0M1464.65 231.97h0M1471.1 233.92h0M1477.55 232.9h0M1484 230.44h0M1490.45 234.27h0M1496.9 230.78h0M1503.35 231.13h0M1509.8 233.76h0M1516.25 232.17h0M1522.7 232.4h0M1529.15 231.79h0M1535.6 232.23h0M1542.05 234.76h0M1548.5 233.64h0M1554.95 235.58h0M1561.4 234.94h0M1567.85 235.67h0M1574.3 238.14h0M1580.75 235.33h0M1587.2 235h0M1593.65 235.57h0M1600.1 231.83h0M1606.55 230.99h0M1613 233.58h0M1619.45 232.46h0M1625.9 229.01h0M1632.35 227.78h0M1638.8 229.23h0M1645.25 224.33h0M1651.7 213.14h0M1658.15 207.72h0M1664.6 193.18h0M1671.05 182.91h0M1677.5 175.35h0M1683.95 172.53h0M1690.4 170.88h0M1696.85 173.42h0M1703.3 168.72h0M1709.75 170.04h0M1716.2 167.37h0M1722.65 169.17h0" stroke="#CC0000" stroke-width="5" stroke-linecap="round" fill="none"/>
<polyline points="1322.75,261.71 1329.2,257.18 1335.65,253.02 1342.1,250.19 1348.55,246.38 1355,245.58 1361.45,245.13 1367.9,244.02 1374.35,240.64 1380.8,231.1 1387.25,218.21 1393.7,200.17 1400.15,177.71 1406.6,162.78 1413.05,146.56 1419.5,139.75 1425.95,139.05 1432.4,138.51 1438.85,136.84 1445.3,129.88 1451.75,130.09 1458.2,131.58 1464.65,132.19 1471.1,131.98 1477.55,132.48 1484,132.7 1490.45,132.25 1496.9,132.47 1503.35,132.71 1509.8,134.42 1516.25,133.92 1522.7,134.37 1529.15,132.41 1535.6,133.56 1542.05,133.18 1548.5,133.6 1554.95,132.7 1561.4,133.94 1567.85,131.85 1574.3,132.54 1580.75,132.67 1587.2,132.75 1593.65,132.18 1600.1,131.86 1606.55,131.79 1613,131.78 1619.45,130.75 1625.9,132.06 1632.35,133.14 1638.8,133.73 1645.25,133.47 1651.7,134.87 1658.15,135.66 1664.6,135.73 1671.05,136.48 1677.5,136.46 1683.95,137.08 1690.4,137.35 1696.85,136.51 1703.3,137.85 1709.75,138.77 1716.2,138.77 1722.65,138.68" fill="none" stroke="#7700EE" stroke-width="2" stroke-linejoin="round" />
<path d="M1322.75 261.71h0M1329.2 257.18h0M1335.65 253.02h0M1342.1 250.19h0M1348.55 246.38h0M1355 245.58h0M1361.45 245.13h0M1367.9 244.02h0M1374.35 240.64h0M1380.8 231.1h0M1387.25 218.21h0M1393.7 200.17h0M1400.15 177.71h0M1406.6 162.78h0M1413.05 146.56h0M1419.5 139.75h0M1425.95 139.05h0M1432.4 138.51h0M1438.85 136.84h0M1445.3 129.88h0M1451.75 130.09h0M1458.2 131.58h0M1464.65 132.19h0M1471.1 131.98h0M1477.55 132.48h0M1484 132.7h0M1490.45 132.25h0M1496.9 132.47h0M1503.35 132.71h0M1509.8 134.42h0M1516.25 133.92h0M1522.7 134.37h0M1529.15 132.41h0M1535.6 133.56h0M1542.05 133.18h0M1548.5 133.6h0M1554.95 132.7h0M1561.4 133.94h0M1567.85 131.85h0M1574.3 132.54h0M1580.75 132.67h0M1587.2 132.75h0M1593.65 132.18h0M1600.1 131.86h0M1606.55 131.79h0M1613 131.78h0M1619.45 130.75h0M1625.9 132.06h0M1632.35 133.14h0M1638.8 133.73h0M1645.25 133.47h0M1651.7 134.87h0M1658.15 135.66h0M1664.6 135.73h0M1671.05 136.48h0M1677.5 136.46h0M1683.95 137.08h0M1690.4 137.35h0M1696.85 136.51h0M1703.3 137.85h0M1709.75 138.77h0M1716.2 138.77h0M1722.65 138.68h0" stroke="#7700EE" stroke-width="5" stroke-linecap="round" fill="none"/>
<polyline points="1322.75,260.66 1329.2,262.23 1335.65,262.79 1342.1,263.38 1348.55,265.04 1355,264.57 1361.45,267.88 1367.9,268.42 1374.35,270.53 1380.8,270.78 1387.25,270.77 1393.7,272.2 1400.15,272.29 1406.6,272.75 1413.05,273.59 1419.5,272.48 1425.95,272.21 1432.4,273.01 1438.85,273.99 1445.3,273.23 1451.75,273.24 1458.2,274.79 1464.65,274.38 1471.1,274.02 1477.55,275 1484,273.94 1490.45,274.7 1496.9,273.84 1503.35,274.39 1509.8,275.22 1516.25,275.51 1522.7,275.52 1529.15,274.61 1535.6,275.08 1542.05,274.63 1548.5,274.34 1554.95,275.14 1561.4,276.03 1567.85,276.49 1574.3,276.64 1580.75,277.55 1587.2,276.63 1593.65,276.85 1600.1,277.84 1606.55,274.27 1613,269.43 1619.45,266.6 1625.9,262.98 1632.35,257.56 1638.8,246.6 1645.25,235.18 1651.7,222.08 1658.15,206.75 1664.6,189.15 1671.05,178.76 1677.5,172.17 1683.95,166.39 1690.4,163.58 1696.85,158.78 1703.3,153.73 1709.75,157.46 1716.2,165.34 1722.65,175.25" fill="none" stroke="#7700EE" stroke-width="2" stroke-linejoin="round" />
<path d="M1322.75 260.66h0M1329.2 262.23h0M1335.65 262.79h0M1342.1 263.38h0M1348.55 265.04h0M1355 264.57h0M1361.45 267.88h0M1367.9 268.42h0M1374.35 270.53h0M1380.8 270.78h0M1387.25 270.77h0M1393.7 272.2h0M1400.15 272.29h0M1406.6 272.75h0M1413.05 273.59h0M1419.5 272.48h0M1425.95 272.21h0M1432.4 273.01h0M1438.85 273.99h0M1445.3 273.23h0M1451.75 273.24h0M1458.2 274.79h0M1464.65 274.38h0M1471.1 274.02h0M1477.55 275h0M1484 273.94h0M1490.45 274.7h0M1496.9 273.84h0M1503.35 274.39h0M1509.8 275.22h0M1516.25 275.51h0M1522.7 275.52h0M1529.15 274.61h0M1535.6 275.08h0M1542.05 274.63h0M1548.5 274.34h0M1554.95 275.14h0M1561.4 276.03h0M1567.85 276.49h0M1574.3 276.64h0M1580.75 277.55h0M1587.2 276.63h0M1593.65 276.85h0M1600.1 277.84h0M1606.55 274.27h0M1613 269.43h0M1619.45 266.6h0M1625.9 262.98h0M1632.35 257.56h0M1638.8 246.6h0M1645.25 235.18h0M1651.7 222.08h0M1658.15 206.75h0M1664.6 189.15h0M1671.05 178.76h0M1677.5 172.17h0M1683.95 166.39h0M1690.4 163.58h0M1696.85 158.78h0M1703.3 153.73h0M1709.75 157.46h0M1716.2 165.34h0M1722.65 175.25h0" stroke="#7700EE" stroke-width="5" stroke-linecap="round" fill="none"/>
<polyline points="1322.75,284.97 1329.2,282.29 1335.65,281.6 1342.1,278.66 1348.55,276.74 1355,275.03 1361.45,273.26 1367.9,268.87 1374.35,263.06 1380.8,255.14 1387.25,242.31 1393.7,218.96 1400.15,189.5 1406.6,155.69 1413.05,135.71 1419.5,126.79 1425.95,117.51 1432.4,113.36 1438.85,113.74 1445.3,112.89 1451.75,113.04 1458.2,113.15 1464.65,113.72 1471.1,113.43 1477.55,113.58 1484,113.81 1490.45,113.23 1496.9,113.87 1503.35,114.05 1509.8,112.74 1516.25,114.09 1522.7,113.76 1529.15,112.81 1535.6,113.33 1542.05,113.6 1548.5,114.06 1554.95,113.2 1561.4,113.51 1567.85,114.01 1574.3,113.87 1580.75,114.11 1587.2,113.34 1593.65,113.64 1600.1,112.93 1606.55,113.76 1613,114.29 1619.45,115.23 1625.9,116.57 1632.35,116.87 1638.8,118.87 1645.25,119.89 1651.7,122.37 1658.15,124.3 1664.6,127.66 1671.05,128.98 1677.5,129.83 1683.95,129.66 1690.4,128.72 1696.85,127.67 1703.3,127.63 1709.75,127.18 1716.2,126.91 1722.65,125.84" fill="none" stroke="#009900" stroke-width="2" stroke-linejoin="round" />
<path d="M1322.75 284.97h0M1329.2 282.29h0M1335.65 281.6h0M1342.1 278.66h0M1348.55 276.74h0M1355 275.03h0M1361.45 273.26h0M1367.9 268.87h0M1374.35 263.06h0M1380.8 255.14h0M1387.25 242.31h0M1393.7 218.96h0M1400.15 189.5h0M1406.6 155.69h0M1413.05 135.71h0M1419.5 126.79h0M1425.95 117.51h0M1432.4 113.36h0M1438.85 113.74h0M1445.3 112.89h0M1451.75 113.04h0M1458.2 113.15h0M1464.65 113.72h0M1471.1 113.43h0M1477.55 113.58h0M1484 113.81h0M1490.45 113.23h0M1496.9 113.87h0M1503.35 114.05h0M1509.8 112.74h0M1516.25 114.09h0M1522.7 113.76h0M1529.15 112.81h0M1535.6 113.33h0M1542.05 113.6h0M1548.5 114.06h0M1554.95 113.2h0M1561.4 113.51h0M1567.85 114.01h0M1574.3 113.87h0M1580.75 114.11h0M1587.2 113.34h0M1593.65 113.64h0M1600.1 112.93h0M1606.55 113.76h0M1613 114.29h0M1619.45 115.23h0M1625.9 116.57h0M1632.35 116.87h0M1638.8 118.87h0M1645.25 119.89h0M1651.7 122.37h0M1658.15 124.3h0M1664.6 127.66h0M1671.05 128.98h0M1677.5 129.83h0M1683.95 129.66h0M1690.4 128.72h0M1696.85 127.67h0M1703.3 127.63h0M1709.75 127.18h0M1716.2 126.91h0M1722.65 125.84h0" stroke="#009900" stroke-width="5" stroke-linecap="round" fill="none"/>
<polyline points="1322.75,295.44 1329.2,295.75 1335.65,293.63 1342.1,293.88 1348.55,291.94 1355,291.27 1361.45,291.06 1367.9,289.47 1374.35,289.62 1380.8,290.34 1387.25,290.8 1393.7,291.12 1400.15,291.01 1406.6,291.55 1413.05,290.95 1419.5,291.8 1425.95,290.54 1432.4,290.87 1438.85,291.47 1445.3,291.2 1451.75,292.02 1458.2,291.99 1464.65,291.91 1471.1,292.54 1477.55,292.2 1484,291.92 1490.45,292.14 1496.9,293 1503.35,293.19 1509.8,292.18 1516.25,293.31 1522.7,293.6 1529.15,292.98 1535.6,293.16 1542.05,292.66 1548.5,293.3 1554.95,293.34 1561.4,293.57 1567.85,292.64 1574.3,294.15 1580.75,293.43 1587.2,293.24 1593.65,293.88 1600.1,293.5 1606.55,293.39 1613,293.71 1619.45,290.82 1625.9,284.73 1632.35,272.16 1638.8,254.89 1645.25,227.69 1651.7,189.28 1658.15,168.1 1664.6,153.3 1671.05,147.34 1677.5,143.72 1683.95,140.17 1690.4,136.11 1696.85,133.41 1703.3,131.23 1709.75,130.68 1716.2,129.94 1722.65,127.44" fill="none" stroke="#009900" stroke-width="2" stroke-linejoin="round" />
<path d="M1322.75 295.44h0M1329.2 295.75h0M1335.65 293.63h0M1342.1 293.88h0M1348.55 291.94h0M1355 291.27h0M1361.45 291.06h0M1367.9 289.47h0M1374.35 289.62h0M1380.8 290.34h0M1387.25 290.8h0M1393.7 291.12h0M1400.15 291.01h0M1406.6 291.55h0M1413.05 290.95h0M1419.5 291.8h0M1425.95 290.54h0M1432.4 290.87h0M1438.85 291.47h0M1445.3 291.2h0M1451.75 292.02h0M1458.2 291.99h0M1464.65 291.91h0M1471.1 292.54h0M1477.55 292.2h0M1484 291.92h0M1490.45 292.14h0M1496.9 293h0M1503.35 293.19h0M1509.8 292.18h0M1516.25 293.31h0M1522.7 293.6h0M1529.15 292.98h0M1535.6 293.16h0M1542.05 292.66h0M1548.5 293.3h0M1554.95 293.34h0M1561.4 293.57h0M1567.85 292.64h0M1574.3 294.15h0M1580.75 293.43h0M1587.2 293.24h0M1593.65 293.88h0M1600.1 293.5h0M1606.55 293.39h0M1613 293.71h0M1619.45 290.82h0M1625.9 284.73h0M1632.35 272.16h0M1638.8 254.89h0M1645.25 227.69h0M1651.7 189.28h0M1658.15 168.1h0M1664.6 153.3h0M1671.05 147.34h0M1677.5 143.72h0M1683.95 140.17h0M1690.4 136.11h0M1696.85 133.41h0M1703.3 131.23h0M1709.75 130.68h0M1716.2 129.94h0M1722.65 127.44h0" stroke="#009900" stroke-width="5" stroke-linecap="round" fill="none"/>
<polyline points="1322.75,288 1329.2,286.42 1335.65,285.95 1342.1,285.31 1348.55,284.91 1355,283.25 1361.45,281.82 1367.9,280.57 1374.35,277.91 1380.8,276.08 1387.25,272.06 1393.7,266.35 1400.15,256.28 1406.6,242.54 1413.05,219.25 1419.5,190.32 1425.95,159.71 1432.4,132.79 1438.85,119.94 1445.3,115.02 1451.75,114.54 1458.2,114.93 1464.65,114.82 1471.1,114.57 1477.55,114.84 1484,114.43 1490.45,114.6 1496.9,113.74 1503.35,114.27 1509.8,114.32 1516.25,114.4 1522.7,113.67 1529.15,113.63 1535.6,114.33 1542.05,113.45 1548.5,114.36 1554.95,114.19 1561.4,113.25 1567.85,113.35 1574.3,113.9 1580.75,113.31 1587.2,113.08 1593.65,113.93 1600.1,113.41 1606.55,114.18 1613,113.7 1619.45,114.36 1625.9,115.02 1632.35,114.54 1638.8,115.08 1645.25,115.98 1651.7,116.62 1658.15,117.16 1664.6,116.6 1671.05,117.54 1677.5,118.2 1683.95,118.12 1690.4,118.56 1696.85,118.18 1703.3,118.25 1709.75,118.52 1716.2,118.65 1722.65,119.49" fill="none" stroke="#FFAA00" stroke-width="2" stroke-linejoin="round" />
<path d="M1322.75 288h0M1329.2 286.42h0M1335.65 285.95h0M1342.1 285.31h0M1348.55 284.91h0M1355 283.25h0M1361.45 281.82h0M1367.9 280.57h0M1374.35 277.91h0M1380.8 276.08h0M1387.25 272.06h0M1393.7 266.35h0M1400.15 256.28h0M1406.6 242.54h0M1413.05 219.25h0M1419.5 190.32h0M1425.95 159.71h0M1432.4 132.79h0M1438.85 119.94h0M1445.3 115.02h0M1451.75 114.54h0M1458.2 114.93h0M1464.65 114.82h0M1471.1 114.57h0M1477.55 114.84h0M1484 114.43h0M1490.45 114.6h0M1496.9 113.74h0M1503.35 114.27h0M1509.8 114.32h0M1516.25 114.4h0M1522.7 113.67h0M1529.15 113.63h0M1535.6 114.33h0M1542.05 113.45h0M1548.5 114.36h0M1554.95 114.19h0M1561.4 113.25h0M1567.85 113.35h0M1574.3 113.9h0M1580.75 113.31h0M1587.2 113.08h0M1593.65 113.93h0M1600.1 113.41h0M1606.55 114.18h0M1613 113.7h0M1619.45 114.36h0M1625.9 115.02h0M1632.35 114.54h0M1638.8 115.08h0M1645.25 115.98h0M1651.7 116.62h0M1658.15 117.16h0M1664.6 116.6h0M1671.05 117.54h0M1677.5 118.2h0M1683.95 118.12h0M1690.4 118.56h0M1696.85 118.18h0M1703.3 118.25h0M1709.75 118.52h0M1716.2 118.65h0M1722.65 119.49h0" stroke="#FFAA00" stroke-width="5" stroke-linecap="round" fill="none"/>
<polyline points="1322.75,290.66 1329.2,291.01 1335.65,290.78 1342.1,291.1 1348.55,291.4 1355,292.44 1361.45,292.9 1367.9,293.1 1374.35,292.38 1380.8,292.62 1387.25,293.96 1393.7,293.65 1400.15,294.29 1406.6,294.04 1413.05,294.49 1419.5,294.64 1425.95,294.57 1432.4,294.8 1438.85,294.13 1445.3,294.98 1451.75,295.19 1458.2,294.42 1464.65,294.78 1471.1,295.15 1477.55,294.78 1484,294.56 1490.45,294.55 1496.9,295 1503.35,294.4 1509.8,295.43 1516.25,295.29 1522.7,295.14 1529.15,295.3 1535.6,294.99 1542.05,294.69 1548.5,294.9 1554.95,294.76 1561.4,295.3 1567.85,295.06 1574.3,294.37 1580.75,295.13 1587.2,294.9 1593.65,293.93 1600.1,292.82 1606.55,291.18 1613,288.17 1619.45,268.29 1625.9,231.78 1632.35,194.59 1638.8,166.72 1645.25,151.18 1651.7,142.52 1658.15,138.54 1664.6,135.95 1671.05,134.15 1677.5,131.64 1683.95,129.93 1690.4,128.15 1696.85,126.33 1703.3,124.79 1709.75,124.57 1716.2,123.17 1722.65,121.7" fill="none" stroke="#FFAA00" stroke-width="2" stroke-linejoin="round" />
<path d="M1322.75 290.66h0M1329.2 291.01h0M1335.65 290.78h0M1342.1 291.1h0M1348.55 291.4h0M1355 292.44h0M1361.45 292.9h0M1367.9 293.1h0M1374.35 292.38h0M1380.8 292.62h0M1387.25 293.96h0M1393.7 293.65h0M1400.15 294.29h0M1406.6 294.04h0M1413.05 294.49h0M1419.5 294.64h0M1425.95 294.57h0M1432.4 294.8h0M1438.85 294.13h0M1445.3 294.98h0M1451.75 295.19h0M1458.2 294.42h0M1464.65 294.78h0M1471.1 295.15h0M1477.55 294.78h0M1484 294.56h0M1490.45 294.55h0M1496.9 295h0M1503.35 294.4h0M1509.8 295.43h0M1516.25 295.29h0M1522.7 295.14h0M1529.15 295.3h0M1535.6 294.99h0M1542.05 294.69h0M1548.5 294.9h0M1554.95 294.76h0M1561.4 295.3h0M1567.85 295.06h0M1574.3 294.37h0M1580.75 295.13h0M1587.2 294.9h0M1593.65 293.93h0M1600.1 292.82h0M1606.55 291.18h0M1613 288.17h0M1619.45 268.29h0M1625.9 231.78h0M1632.35 194.59h0M1638.8 166.72h0M1645.25 151.18h0M1651.7 142.52h0M1658.15 138.54h0M1664.6 135.95h0M1671.05 134.15h0M1677.5 131.64h0M1683.95 129.93h0M1690.4 128.15h0M1696.85 126.33h0M1703.3 124.79h0M1709.75 124.57h0M1716.2 123.17h0M1722.65 121.7h0" stroke="#FFAA00" stroke-width="5" stroke-linecap="round" fill="none"/>
<polyline points="1361.45,312.14 1367.9,308.44 1374.35,307.7 1380.8,306.94 1387.25,307.47 1393.7,305.15 1400.15,304.27 1406.6,303.93 1413.05,303.98 1419.5,303.09 1425.95,306.82 1432.4,310.42 1438.85,306.82 1445.3,305.7 1451.75,306.13 1458.2,307.76 1464.65,309.47 1471.1,310.08 1477.55,310.7 1484,312.27 1490.45,311.42 1496.9,311.32 1503.35,312.42 1509.8,311.46 1516.25,312.49 1522.7,311.63 1529.15,312.04 1535.6,310.8 1542.05,312.65 1548.5,313.64 1554.95,312.43 1561.4,309.41 1567.85,294.14 1574.3,273.26 1580.75,241.45 1587.2,197.19 1593.65,176.22 1600.1,140.14 1606.55,128.12 1613,117.61 1619.45,111.01 1625.9,111.56 1632.35,111.77 1638.8,112.34 1645.25,114.16 1651.7,114.9 1658.15,115.2 1664.6,117.12 1671.05,116.95 1677.5,117.12 1683.95,118.51" fill="none" stroke="#0000CC" stroke-width="2" stroke-linejoin="round" />
<path d="M1361.45 312.14h0M1367.9 308.44h0M1374.35 307.7h0M1380.8 306.94h0M1387.25 307.47h0M1393.7 305.15h0M1400.15 304.27h0M1406.6 303.93h0M1413.05 303.98h0M1419.5 303.09h0M1425.95 306.82h0M1432.4 310.42h0M1438.85 306.82h0M1445.3 305.7h0M1451.75 306.13h0M1458.2 307.76h0M1464.65 309.47h0M1471.1 310.08h0M1477.55 310.7h0M1484 312.27h0M1490.45 311.42h0M1496.9 311.32h0M1503.35 312.42h0M1509.8 311.46h0M1516.25 312.49h0M1522.7 311.63h0M1529.15 312.04h0M1535.6 310.8h0M1542.05 312.65h0M1548.5 313.64h0M1554.95 312.43h0M1561.4 309.41h0M1567.85 294.14h0M1574.3 273.26h0M1580.75 241.45h0M1587.2 197.19h0M1593.65 176.22h0M1600.1 140.14h0M1606.55 128.12h0M1613 117.61h0M1619.45 111.01h0M1625.9 111.56h0M1632.35 111.77h0M1638.8 112.34h0M1645.25 114.16h0M1651.7 114.9h0M1658.15 115.2h0M1664.6 117.12h0M1671.05 116.95h0M1677.5 117.12h0M1683.95 118.51h0" stroke="#0000CC" stroke-width="5" stroke-linecap="round" fill="none"/>
<polyline points="1361.45,306.72 1367.9,304.38 1374.35,305.24 1380.8,303.96 1387.25,303.52 1393.7,300.02 1400.15,293.7 1406.6,291.6 1413.05,289.63 1419.5,285.9 1425.95,286.36 1432.4,282.85 1438.85,279.78 1445.3,273.51 1451.75,258.32 1458.2,248.24 1464.65,190.53 1471.1,126.32 1477.55,100.01 1484,97.65 1490.45,97.21 1496.9,96.65 1503.35,95.43 1509.8,96.6 1516.25,96.15 1522.7,95.5 1529.15,95.08 1535.6,96.18 1542.05,95.16 1548.5,95.87 1554.95,96.45 1561.4,96.01 1567.85,95.61 1574.3,96.44 1580.75,96.11 1587.2,97.04 1593.65,96.51 1600.1,97.71 1606.55,98.74 1613,99.36 1619.45,99.31 1625.9,103.19 1632.35,105.92 1638.8,106.52 1645.25,107.09 1651.7,107.42 1658.15,108.17 1664.6,110.04 1671.05,110.6 1677.5,111.5 1683.95,112.44" fill="none" stroke="#0000CC" stroke-width="2" stroke-linejoin="round" />
<path d="M1361.45 306.72h0M1367.9 304.38h0M1374.35 305.24h0M1380.8 303.96h0M1387.25 303.52h0M1393.7 300.02h0M1400.15 293.7h0M1406.6 291.6h0M1413.05 289.63h0M1419.5 285.9h0M1425.95 286.36h0M1432.4 282.85h0M1438.85 279.78h0M1445.3 273.51h0M1451.75 258.32h0M1458.2 248.24h0M1464.65 190.53h0M1471.1 126.32h0M1477.55 100.01h0M1484 97.65h0M1490.45 97.21h0M1496.9 96.65h0M1503.35 95.43h0M1509.8 96.6h0M1516.25 96.15h0M1522.7 95.5h0M1529.15 95.08h0M1535.6 96.18h0M1542.05 95.16h0M1548.5 95.87h0M1554.95 96.45h0M1561.4 96.01h0M1567.85 95.61h0M1574.3 96.44h0M1580.75 96.11h0M1587.2 97.04h0M1593.65 96.51h0M1600.1 97.71h0M1606.55 98.74h0M1613 99.36h0M1619.45 99.31h0M1625.9 103.19h0M1632.35 105.92h0M1638.8 106.52h0M1645.25 107.09h0M1651.7 107.42h0M1658.15 108.17h0M1664.6 110.04h0M1671.05 110.6h0M1677.5 111.5h0M1683.95 112.44h0" stroke="#0000CC" stroke-width="5" stroke-linecap="round" fill="none"/>
</g>
<rect x="1606" y="64" width="104" height="28" fill="#fff"/>
<rect x="1644" y="238" width="91" height="60" fill="#fff"/>
<rect x="1600" y="296" width="99" height="56" fill="#fff"/>
<text x="1710.5" y="88.5" font-size="32" text-anchor="end" fill="#0000CC" font-weight="normal" font-style="normal" transform="translate(0 -5.31) scale(1 1.06)" >2.9 nm</text>
<text x="1732" y="263.2" font-size="32" text-anchor="end" fill="#CC0000" font-weight="normal" font-style="normal" transform="translate(0 -15.79) scale(1 1.06)" >12 nm</text>
<text x="1737" y="291.7" font-size="32" text-anchor="end" fill="#7700EE" font-weight="normal" font-style="normal" transform="translate(0 -17.5) scale(1 1.06)" >8.1 nm</text>
<text x="1699.5" y="320.2" font-size="32" text-anchor="end" fill="#CC8800" font-weight="normal" font-style="normal" transform="translate(0 -19.21) scale(1 1.06)" >4.6 nm</text>
<text x="1699.5" y="348.7" font-size="32" text-anchor="end" fill="#009900" font-weight="normal" font-style="normal" transform="translate(0 -20.92) scale(1 1.06)" >5.8 nm</text>
<line x1="1329" y1="11.5" x2="1716" y2="11.5" stroke="#000" stroke-width="2" />
<line x1="1329" y1="397.8" x2="1716" y2="397.8" stroke="#000" stroke-width="2" />
<line x1="1329" y1="10.5" x2="1329" y2="398.8" stroke="#000" stroke-width="2" />
<line x1="1716" y1="10.5" x2="1716" y2="240" stroke="#000" stroke-width="2" />
<line x1="1716" y1="298" x2="1716" y2="398.8" stroke="#000" stroke-width="2" />
<line x1="1329" y1="330.5" x2="1345" y2="330.5" stroke="#000" stroke-width="2" />
<line x1="1329" y1="204.1" x2="1345" y2="204.1" stroke="#000" stroke-width="2" />
<line x1="1329" y1="77.7" x2="1345" y2="77.7" stroke="#000" stroke-width="2" />
<line x1="1329" y1="393.7" x2="1337.5" y2="393.7" stroke="#000" stroke-width="2" />
<line x1="1329" y1="267.3" x2="1337.5" y2="267.3" stroke="#000" stroke-width="2" />
<line x1="1329" y1="140.9" x2="1337.5" y2="140.9" stroke="#000" stroke-width="2" />
<line x1="1329" y1="14.5" x2="1337.5" y2="14.5" stroke="#000" stroke-width="2" />
<line x1="1393.7" y1="397.8" x2="1393.7" y2="381.8" stroke="#000" stroke-width="2" />
<line x1="1458.2" y1="397.8" x2="1458.2" y2="381.8" stroke="#000" stroke-width="2" />
<line x1="1522.7" y1="397.8" x2="1522.7" y2="381.8" stroke="#000" stroke-width="2" />
<line x1="1587.2" y1="397.8" x2="1587.2" y2="381.8" stroke="#000" stroke-width="2" />
<line x1="1651.7" y1="397.8" x2="1651.7" y2="381.8" stroke="#000" stroke-width="2" />
<text x="1319.8" y="89.3" font-size="32" text-anchor="end" fill="#000" font-weight="normal" font-style="normal" transform="translate(0 -5.36) scale(1 1.06)" >1</text>
<text x="1319.8" y="215.7" font-size="32" text-anchor="end" fill="#000" font-weight="normal" font-style="normal" transform="translate(0 -12.94) scale(1 1.06)" >0</text>
<text x="1319.8" y="342.1" font-size="32" text-anchor="end" fill="#000" font-weight="normal" font-style="normal" transform="translate(0 -20.53) scale(1 1.06)" >-1</text>
<text x="1329.2" y="436.8" font-size="32" text-anchor="middle" fill="#000" font-weight="normal" font-style="normal" transform="translate(0 -26.21) scale(1 1.06)" >-6</text>
<text x="1393.7" y="436.8" font-size="32" text-anchor="middle" fill="#000" font-weight="normal" font-style="normal" transform="translate(0 -26.21) scale(1 1.06)" >-4</text>
<text x="1458.2" y="436.8" font-size="32" text-anchor="middle" fill="#000" font-weight="normal" font-style="normal" transform="translate(0 -26.21) scale(1 1.06)" >-2</text>
<text x="1522.7" y="436.8" font-size="32" text-anchor="middle" fill="#000" font-weight="normal" font-style="normal" transform="translate(0 -26.21) scale(1 1.06)" >0</text>
<text x="1587.2" y="436.8" font-size="32" text-anchor="middle" fill="#000" font-weight="normal" font-style="normal" transform="translate(0 -26.21) scale(1 1.06)" >2</text>
<text x="1651.7" y="436.8" font-size="32" text-anchor="middle" fill="#000" font-weight="normal" font-style="normal" transform="translate(0 -26.21) scale(1 1.06)" >4</text>
<text x="1716.2" y="436.8" font-size="32" text-anchor="middle" fill="#000" font-weight="normal" font-style="normal" transform="translate(0 -26.21) scale(1 1.06)" >6</text>
<text x="1522" y="472.6" font-size="32" text-anchor="middle" fill="#000" font-weight="normal" transform="translate(0 -28.36) scale(1 1.06)"><tspan font-style="italic">J</tspan><tspan dy="8" font-size="22" font-style="italic">x</tspan><tspan dy="-8"> (mA)</tspan></text>
<text x="1261" y="203.5" font-size="32" text-anchor="middle" fill="#000" font-weight="normal" transform="rotate(-90 1261 203.5) translate(0 -12.21) scale(1 1.06)"><tspan font-style="italic">R</tspan><tspan dy="8" font-size="22" font-style="italic">yx</tspan><tspan dy="-8" dx="1">/</tspan><tspan font-style="italic">R</tspan><tspan dy="8" font-size="22" font-style="italic">yx</tspan><tspan dy="-30" font-size="22">AH</tspan></text>
<text x="1225.9" y="27.7" font-size="41" text-anchor="start" fill="#000" font-weight="bold" font-style="normal" >c</text>
<text x="1347" y="53" font-size="32" text-anchor="start" fill="#000" font-weight="normal" transform="translate(0 -3.18) scale(1 1.06)"><tspan font-style="italic">μ</tspan><tspan dy="7.5" font-size="22">0</tspan><tspan dy="-7.5" font-style="italic">H</tspan><tspan dy="7.5" font-size="22" font-style="italic">x</tspan><tspan dy="-7.5"> = -0.1 T</tspan></text>
<text x="1580.8" y="48.8" font-size="32" text-anchor="start" fill="#000" font-weight="normal" transform="translate(0 -2.93) scale(1 1.06)"><tspan font-style="italic">t</tspan><tspan dy="7.3" font-size="23">CGT</tspan><tspan dy="-7.3"> =</tspan></text>
<line x1="1566.5" y1="85" x2="1541.1" y2="85" stroke="#000" stroke-width="3" />
<polygon points="1529,85 1543.6,77.4 1541.1,85 1543.6,92.6" fill="#000"/>
<line x1="1468" y1="323" x2="1493.9" y2="323" stroke="#000" stroke-width="3" />
<polygon points="1506,323 1491.4,330.6 1493.9,323 1491.4,315.4" fill="#000"/>
<line x1="349.6" y1="920" x2="558.3" y2="544.4" stroke="#FFA6A6" stroke-width="6" stroke-dasharray="13 7"/>
<line x1="424.3" y1="766" x2="447.3" y2="766" stroke="#FF0000" stroke-width="2" />
<line x1="424.3" y1="759" x2="424.3" y2="773" stroke="#FF0000" stroke-width="2" />
<line x1="447.3" y1="759" x2="447.3" y2="773" stroke="#FF0000" stroke-width="2" />
<line x1="435.8" y1="743.1" x2="435.8" y2="788.9" stroke="#FF0000" stroke-width="2" />
<line x1="428.8" y1="743.1" x2="442.8" y2="743.1" stroke="#FF0000" stroke-width="2" />
<line x1="428.8" y1="788.9" x2="442.8" y2="788.9" stroke="#FF0000" stroke-width="2" />
<circle cx="435.8" cy="766" r="6.6" fill="#FF0000" stroke="#000" stroke-width="2.2"/>
<line x1="441.9" y1="758.4" x2="464.9" y2="758.4" stroke="#FF0000" stroke-width="2" />
<line x1="441.9" y1="751.4" x2="441.9" y2="765.4" stroke="#FF0000" stroke-width="2" />
<line x1="464.9" y1="751.4" x2="464.9" y2="765.4" stroke="#FF0000" stroke-width="2" />
<line x1="453.4" y1="743.1" x2="453.4" y2="773.8" stroke="#FF0000" stroke-width="2" />
<line x1="446.4" y1="743.1" x2="460.4" y2="743.1" stroke="#FF0000" stroke-width="2" />
<line x1="446.4" y1="773.8" x2="460.4" y2="773.8" stroke="#FF0000" stroke-width="2" />
<circle cx="453.4" cy="758.4" r="6.6" fill="#FF0000" stroke="#000" stroke-width="2.2"/>
<line x1="474.5" y1="665.8" x2="497.5" y2="665.8" stroke="#FF0000" stroke-width="2" />
<line x1="474.5" y1="658.8" x2="474.5" y2="672.8" stroke="#FF0000" stroke-width="2" />
<line x1="497.5" y1="658.8" x2="497.5" y2="672.8" stroke="#FF0000" stroke-width="2" />
<line x1="486" y1="635" x2="486" y2="681.2" stroke="#FF0000" stroke-width="2" />
<line x1="479" y1="635" x2="493" y2="635" stroke="#FF0000" stroke-width="2" />
<line x1="479" y1="681.2" x2="493" y2="681.2" stroke="#FF0000" stroke-width="2" />
<circle cx="486" cy="665.8" r="6.6" fill="#FF0000" stroke="#000" stroke-width="2.2"/>
<line x1="510" y1="627.4" x2="533" y2="627.4" stroke="#FF0000" stroke-width="2" />
<line x1="510" y1="620.4" x2="510" y2="634.4" stroke="#FF0000" stroke-width="2" />
<line x1="533" y1="620.4" x2="533" y2="634.4" stroke="#FF0000" stroke-width="2" />
<line x1="521.5" y1="604.2" x2="521.5" y2="642.6" stroke="#FF0000" stroke-width="2" />
<line x1="514.5" y1="604.2" x2="528.5" y2="604.2" stroke="#FF0000" stroke-width="2" />
<line x1="514.5" y1="642.6" x2="528.5" y2="642.6" stroke="#FF0000" stroke-width="2" />
<circle cx="521.5" cy="627.4" r="6.6" fill="#FF0000" stroke="#000" stroke-width="2.2"/>
<line x1="578.4" y1="596.5" x2="601.4" y2="596.5" stroke="#FF0000" stroke-width="2" />
<line x1="578.4" y1="589.5" x2="578.4" y2="603.5" stroke="#FF0000" stroke-width="2" />
<line x1="601.4" y1="589.5" x2="601.4" y2="603.5" stroke="#FF0000" stroke-width="2" />
<line x1="589.9" y1="581.3" x2="589.9" y2="619.8" stroke="#FF0000" stroke-width="2" />
<line x1="582.9" y1="581.3" x2="596.9" y2="581.3" stroke="#FF0000" stroke-width="2" />
<line x1="582.9" y1="619.8" x2="596.9" y2="619.8" stroke="#FF0000" stroke-width="2" />
<circle cx="589.9" cy="596.5" r="6.6" fill="#FF0000" stroke="#000" stroke-width="2.2"/>
<line x1="693.9" y1="581.3" x2="716.9" y2="581.3" stroke="#FF0000" stroke-width="2" />
<line x1="693.9" y1="574.3" x2="693.9" y2="588.3" stroke="#FF0000" stroke-width="2" />
<line x1="716.9" y1="574.3" x2="716.9" y2="588.3" stroke="#FF0000" stroke-width="2" />
<line x1="705.4" y1="565.8" x2="705.4" y2="596.8" stroke="#FF0000" stroke-width="2" />
<line x1="698.4" y1="565.8" x2="712.4" y2="565.8" stroke="#FF0000" stroke-width="2" />
<line x1="698.4" y1="596.8" x2="712.4" y2="596.8" stroke="#FF0000" stroke-width="2" />
<circle cx="705.4" cy="581.3" r="6.6" fill="#FF0000" stroke="#000" stroke-width="2.2"/>
<line x1="424.2" y1="589.6" x2="447.2" y2="589.6" stroke="#009900" stroke-width="2" />
<line x1="424.2" y1="582.6" x2="424.2" y2="596.6" stroke="#009900" stroke-width="2" />
<line x1="447.2" y1="582.6" x2="447.2" y2="596.6" stroke="#009900" stroke-width="2" />
<circle cx="435.7" cy="589.6" r="6.6" fill="#009900" stroke="#000" stroke-width="2.2"/>
<line x1="442" y1="605.4" x2="465" y2="605.4" stroke="#009900" stroke-width="2" />
<line x1="442" y1="598.4" x2="442" y2="612.4" stroke="#009900" stroke-width="2" />
<line x1="465" y1="598.4" x2="465" y2="612.4" stroke="#009900" stroke-width="2" />
<circle cx="453.5" cy="605.4" r="6.6" fill="#009900" stroke="#000" stroke-width="2.2"/>
<line x1="474.5" y1="643" x2="497.5" y2="643" stroke="#009900" stroke-width="2" />
<line x1="474.5" y1="636" x2="474.5" y2="650" stroke="#009900" stroke-width="2" />
<line x1="497.5" y1="636" x2="497.5" y2="650" stroke="#009900" stroke-width="2" />
<circle cx="486" cy="643" r="6.6" fill="#009900" stroke="#000" stroke-width="2.2"/>
<line x1="510" y1="649.7" x2="533" y2="649.7" stroke="#009900" stroke-width="2" />
<line x1="510" y1="642.7" x2="510" y2="656.7" stroke="#009900" stroke-width="2" />
<line x1="533" y1="642.7" x2="533" y2="656.7" stroke="#009900" stroke-width="2" />
<circle cx="521.5" cy="649.7" r="6.6" fill="#009900" stroke="#000" stroke-width="2.2"/>
<line x1="578.4" y1="706.6" x2="601.4" y2="706.6" stroke="#009900" stroke-width="2" />
<line x1="578.4" y1="699.6" x2="578.4" y2="713.6" stroke="#009900" stroke-width="2" />
<line x1="601.4" y1="699.6" x2="601.4" y2="713.6" stroke="#009900" stroke-width="2" />
<circle cx="589.9" cy="706.6" r="6.6" fill="#009900" stroke="#000" stroke-width="2.2"/>
<line x1="693.9" y1="849.5" x2="716.9" y2="849.5" stroke="#009900" stroke-width="2" />
<line x1="693.9" y1="842.5" x2="693.9" y2="856.5" stroke="#009900" stroke-width="2" />
<line x1="716.9" y1="842.5" x2="716.9" y2="856.5" stroke="#009900" stroke-width="2" />
<circle cx="705.4" cy="849.5" r="6.6" fill="#009900" stroke="#000" stroke-width="2.2"/>
<line x1="447.5" y1="658.7" x2="381.8" y2="658.7" stroke="#FF0000" stroke-width="2.2" />
<polygon points="366.6,658.7 381.8,651.1 381.8,658.7 381.8,666.3" fill="#FF0000"/>
<line x1="615.5" y1="669.3" x2="681.5" y2="669.3" stroke="#009900" stroke-width="2.2" />
<polygon points="696.5,669.3 681.5,676.9 681.5,669.3 681.5,661.7" fill="#009900"/>
<rect x="349.6" y="534.6" width="386.1" height="385.4" fill="none" stroke="#000" stroke-width="2"/>
<line x1="349.6" y1="920" x2="366.6" y2="920" stroke="#000" stroke-width="2" />
<line x1="349.6" y1="842.92" x2="366.6" y2="842.92" stroke="#000" stroke-width="2" />
<line x1="349.6" y1="765.84" x2="366.6" y2="765.84" stroke="#000" stroke-width="2" />
<line x1="349.6" y1="688.76" x2="366.6" y2="688.76" stroke="#000" stroke-width="2" />
<line x1="349.6" y1="611.68" x2="366.6" y2="611.68" stroke="#000" stroke-width="2" />
<line x1="349.6" y1="534.6" x2="366.6" y2="534.6" stroke="#000" stroke-width="2" />
<line x1="735.7" y1="881.46" x2="726.7" y2="881.46" stroke="#000" stroke-width="2" />
<line x1="735.7" y1="842.92" x2="726.7" y2="842.92" stroke="#000" stroke-width="2" />
<line x1="735.7" y1="804.38" x2="726.7" y2="804.38" stroke="#000" stroke-width="2" />
<line x1="735.7" y1="765.84" x2="726.7" y2="765.84" stroke="#000" stroke-width="2" />
<line x1="735.7" y1="727.3" x2="726.7" y2="727.3" stroke="#000" stroke-width="2" />
<line x1="735.7" y1="688.76" x2="726.7" y2="688.76" stroke="#000" stroke-width="2" />
<line x1="735.7" y1="650.22" x2="726.7" y2="650.22" stroke="#000" stroke-width="2" />
<line x1="735.7" y1="611.68" x2="726.7" y2="611.68" stroke="#000" stroke-width="2" />
<line x1="735.7" y1="573.14" x2="726.7" y2="573.14" stroke="#000" stroke-width="2" />
<line x1="468.4" y1="920" x2="468.4" y2="903.5" stroke="#000" stroke-width="2" />
<line x1="587.2" y1="920" x2="587.2" y2="903.5" stroke="#000" stroke-width="2" />
<line x1="706" y1="920" x2="706" y2="903.5" stroke="#000" stroke-width="2" />
<line x1="409" y1="920" x2="409" y2="911" stroke="#000" stroke-width="2" />
<line x1="527.8" y1="920" x2="527.8" y2="911" stroke="#000" stroke-width="2" />
<line x1="646.6" y1="920" x2="646.6" y2="911" stroke="#000" stroke-width="2" />
<text x="341" y="931.6" font-size="32" text-anchor="end" fill="#000" font-weight="normal" font-style="normal" transform="translate(0 -55.9) scale(1 1.06)" >0</text>
<text x="341" y="854.52" font-size="32" text-anchor="end" fill="#000" font-weight="normal" font-style="normal" transform="translate(0 -51.27) scale(1 1.06)" >1</text>
<text x="341" y="777.44" font-size="32" text-anchor="end" fill="#000" font-weight="normal" font-style="normal" transform="translate(0 -46.65) scale(1 1.06)" >2</text>
<text x="341" y="700.36" font-size="32" text-anchor="end" fill="#000" font-weight="normal" font-style="normal" transform="translate(0 -42.02) scale(1 1.06)" >3</text>
<text x="341" y="623.28" font-size="32" text-anchor="end" fill="#000" font-weight="normal" font-style="normal" transform="translate(0 -37.4) scale(1 1.06)" >4</text>
<text x="341" y="546.2" font-size="32" text-anchor="end" fill="#000" font-weight="normal" font-style="normal" transform="translate(0 -32.77) scale(1 1.06)" >5</text>
<text x="745" y="546.2" font-size="32" text-anchor="start" fill="#000" font-weight="normal" font-style="normal" transform="translate(0 -32.77) scale(1 1.06)" >1</text>
<text x="745" y="931.6" font-size="32" text-anchor="start" fill="#000" font-weight="normal" font-style="normal" transform="translate(0 -55.9) scale(1 1.06)" >0</text>
<text x="349.6" y="958.8" font-size="32" text-anchor="middle" fill="#000" font-weight="normal" font-style="normal" transform="translate(0 -57.53) scale(1 1.06)" >0</text>
<text x="468.4" y="958.8" font-size="32" text-anchor="middle" fill="#000" font-weight="normal" font-style="normal" transform="translate(0 -57.53) scale(1 1.06)" >4</text>
<text x="587.2" y="958.8" font-size="32" text-anchor="middle" fill="#000" font-weight="normal" font-style="normal" transform="translate(0 -57.53) scale(1 1.06)" >8</text>
<text x="706" y="958.8" font-size="32" text-anchor="middle" fill="#000" font-weight="normal" font-style="normal" transform="translate(0 -57.53) scale(1 1.06)" >12</text>
<text x="543" y="994.3" font-size="32" text-anchor="middle" fill="#000" font-weight="normal" transform="translate(0 -59.66) scale(1 1.06)"><tspan font-style="italic">t</tspan><tspan dy="7.5" font-size="22">CGT</tspan><tspan dy="-7.5"> (nm)</tspan></text>
<text x="276" y="727" font-size="32" text-anchor="middle" fill="#000" font-weight="normal" transform="rotate(-90 276 727) translate(0 -43.62) scale(1 1.06)"><tspan font-style="italic">j</tspan><tspan dy="8" font-size="22" font-style="italic">x</tspan><tspan dy="-30" font-size="22">sw</tspan><tspan dy="22"> (A cm</tspan><tspan dy="-22" font-size="22">-1</tspan><tspan dy="22" dx="2">)</tspan></text>
<text x="816.5" y="727" font-size="32" text-anchor="middle" fill="#000" font-weight="normal" transform="rotate(-90 816.5 727) translate(0 -43.62) scale(1 1.06)"><tspan font-style="italic">R</tspan><tspan dy="8" font-size="22" font-style="italic">yx</tspan><tspan dy="-30" font-size="22">sw</tspan><tspan dy="22">/</tspan><tspan font-style="italic">R</tspan><tspan dy="8" font-size="22" font-style="italic">yx</tspan><tspan dy="-30" font-size="22">AH</tspan></text>
<text x="241.3" y="554.6" font-size="41" text-anchor="start" fill="#000" font-weight="bold" font-style="normal" >d</text>
<rect x="1108.8" y="661" width="181.3" height="13.3" fill="#FFA6A6"/>
<line x1="1136.4" y1="684.6" x2="1159" y2="684.6" stroke="#FF0000" stroke-width="2" />
<line x1="1136.4" y1="677.6" x2="1136.4" y2="691.6" stroke="#FF0000" stroke-width="2" />
<line x1="1159" y1="677.6" x2="1159" y2="691.6" stroke="#FF0000" stroke-width="2" />
<line x1="1147.7" y1="627.3" x2="1147.7" y2="741.1" stroke="#FF0000" stroke-width="2" />
<line x1="1140.7" y1="627.3" x2="1154.7" y2="627.3" stroke="#FF0000" stroke-width="2" />
<line x1="1140.7" y1="741.1" x2="1154.7" y2="741.1" stroke="#FF0000" stroke-width="2" />
<circle cx="1147.7" cy="684.6" r="6.6" fill="#FF0000" stroke="#000" stroke-width="2.2"/>
<line x1="1154.5" y1="645" x2="1177.1" y2="645" stroke="#FF0000" stroke-width="2" />
<line x1="1154.5" y1="638" x2="1154.5" y2="652" stroke="#FF0000" stroke-width="2" />
<line x1="1177.1" y1="638" x2="1177.1" y2="652" stroke="#FF0000" stroke-width="2" />
<line x1="1165.8" y1="593.7" x2="1165.8" y2="696.7" stroke="#FF0000" stroke-width="2" />
<line x1="1158.8" y1="593.7" x2="1172.8" y2="593.7" stroke="#FF0000" stroke-width="2" />
<line x1="1158.8" y1="696.7" x2="1172.8" y2="696.7" stroke="#FF0000" stroke-width="2" />
<circle cx="1165.8" cy="645" r="6.6" fill="#FF0000" stroke="#000" stroke-width="2.2"/>
<line x1="1186.8" y1="691.4" x2="1209.4" y2="691.4" stroke="#FF0000" stroke-width="2" />
<line x1="1186.8" y1="684.4" x2="1186.8" y2="698.4" stroke="#FF0000" stroke-width="2" />
<line x1="1209.4" y1="684.4" x2="1209.4" y2="698.4" stroke="#FF0000" stroke-width="2" />
<line x1="1198.1" y1="651.4" x2="1198.1" y2="723.5" stroke="#FF0000" stroke-width="2" />
<line x1="1191.1" y1="651.4" x2="1205.1" y2="651.4" stroke="#FF0000" stroke-width="2" />
<line x1="1191.1" y1="723.5" x2="1205.1" y2="723.5" stroke="#FF0000" stroke-width="2" />
<circle cx="1198.1" cy="691.4" r="6.6" fill="#FF0000" stroke="#000" stroke-width="2.2"/>
<line x1="1222.3" y1="688.5" x2="1244.9" y2="688.5" stroke="#FF0000" stroke-width="2" />
<line x1="1222.3" y1="681.5" x2="1222.3" y2="695.5" stroke="#FF0000" stroke-width="2" />
<line x1="1244.9" y1="681.5" x2="1244.9" y2="695.5" stroke="#FF0000" stroke-width="2" />
<line x1="1233.6" y1="657.8" x2="1233.6" y2="716" stroke="#FF0000" stroke-width="2" />
<line x1="1226.6" y1="657.8" x2="1240.6" y2="657.8" stroke="#FF0000" stroke-width="2" />
<line x1="1226.6" y1="716" x2="1240.6" y2="716" stroke="#FF0000" stroke-width="2" />
<circle cx="1233.6" cy="688.5" r="6.6" fill="#FF0000" stroke="#000" stroke-width="2.2"/>
<line x1="1290.7" y1="644.5" x2="1313.3" y2="644.5" stroke="#FF0000" stroke-width="2" />
<line x1="1290.7" y1="637.5" x2="1290.7" y2="651.5" stroke="#FF0000" stroke-width="2" />
<line x1="1313.3" y1="637.5" x2="1313.3" y2="651.5" stroke="#FF0000" stroke-width="2" />
<line x1="1302" y1="615.7" x2="1302" y2="677" stroke="#FF0000" stroke-width="2" />
<line x1="1295" y1="615.7" x2="1309" y2="615.7" stroke="#FF0000" stroke-width="2" />
<line x1="1295" y1="677" x2="1309" y2="677" stroke="#FF0000" stroke-width="2" />
<circle cx="1302" cy="644.5" r="6.6" fill="#FF0000" stroke="#000" stroke-width="2.2"/>
<line x1="1406.7" y1="574.5" x2="1429.3" y2="574.5" stroke="#FF0000" stroke-width="2" />
<line x1="1406.7" y1="567.5" x2="1406.7" y2="581.5" stroke="#FF0000" stroke-width="2" />
<line x1="1429.3" y1="567.5" x2="1429.3" y2="581.5" stroke="#FF0000" stroke-width="2" />
<line x1="1418" y1="538.5" x2="1418" y2="610.4" stroke="#FF0000" stroke-width="2" />
<line x1="1411" y1="538.5" x2="1425" y2="538.5" stroke="#FF0000" stroke-width="2" />
<line x1="1411" y1="610.4" x2="1425" y2="610.4" stroke="#FF0000" stroke-width="2" />
<circle cx="1418" cy="574.5" r="6.6" fill="#FF0000" stroke="#000" stroke-width="2.2"/>
<rect x="1270.7" y="738.8" width="168.8" height="126.2" fill="#fff"/>
<line x1="1308.2" y1="758.7" x2="1308.2" y2="785.3" stroke="#000" stroke-width="1.5" />
<line x1="1304.2" y1="758.7" x2="1312.2" y2="758.7" stroke="#000" stroke-width="1.5" />
<line x1="1304.2" y1="785.3" x2="1312.2" y2="785.3" stroke="#000" stroke-width="1.5" />
<circle cx="1308.2" cy="771.9" r="5.4" fill="#000" stroke="#000" stroke-width="0.5"/>
<line x1="1316.5" y1="758.7" x2="1316.5" y2="782.1" stroke="#000" stroke-width="1.5" />
<line x1="1312.5" y1="758.7" x2="1320.5" y2="758.7" stroke="#000" stroke-width="1.5" />
<line x1="1312.5" y1="782.1" x2="1320.5" y2="782.1" stroke="#000" stroke-width="1.5" />
<circle cx="1316.5" cy="770.6" r="5.4" fill="#000" stroke="#000" stroke-width="0.5"/>
<line x1="1330.3" y1="761.8" x2="1330.3" y2="780" stroke="#000" stroke-width="1.5" />
<line x1="1326.3" y1="761.8" x2="1334.3" y2="761.8" stroke="#000" stroke-width="1.5" />
<line x1="1326.3" y1="780" x2="1334.3" y2="780" stroke="#000" stroke-width="1.5" />
<circle cx="1330.3" cy="770.8" r="5.4" fill="#000" stroke="#000" stroke-width="0.5"/>
<line x1="1346" y1="770.2" x2="1346" y2="785.9" stroke="#000" stroke-width="1.5" />
<line x1="1342" y1="770.2" x2="1350" y2="770.2" stroke="#000" stroke-width="1.5" />
<line x1="1342" y1="785.9" x2="1350" y2="785.9" stroke="#000" stroke-width="1.5" />
<circle cx="1346" cy="778.2" r="5.4" fill="#000" stroke="#000" stroke-width="0.5"/>
<line x1="1375.7" y1="776" x2="1375.7" y2="790.1" stroke="#000" stroke-width="1.5" />
<line x1="1371.7" y1="776" x2="1379.7" y2="776" stroke="#000" stroke-width="1.5" />
<line x1="1371.7" y1="790.1" x2="1379.7" y2="790.1" stroke="#000" stroke-width="1.5" />
<circle cx="1375.7" cy="783.2" r="5.4" fill="#000" stroke="#000" stroke-width="0.5"/>
<line x1="1427" y1="785.9" x2="1427" y2="798.9" stroke="#000" stroke-width="1.5" />
<line x1="1423" y1="785.9" x2="1431" y2="785.9" stroke="#000" stroke-width="1.5" />
<line x1="1423" y1="798.9" x2="1431" y2="798.9" stroke="#000" stroke-width="1.5" />
<circle cx="1427" cy="792.6" r="5.4" fill="#000" stroke="#000" stroke-width="0.5"/>
<rect x="1270.7" y="738.8" width="168.8" height="126.2" fill="none" stroke="#000" stroke-width="1.4"/>
<line x1="1270.7" y1="865" x2="1280.2" y2="865" stroke="#000" stroke-width="1.4" />
<line x1="1270.7" y1="822.93" x2="1280.2" y2="822.93" stroke="#000" stroke-width="1.4" />
<line x1="1270.7" y1="780.86" x2="1280.2" y2="780.86" stroke="#000" stroke-width="1.4" />
<line x1="1270.7" y1="738.79" x2="1280.2" y2="738.79" stroke="#000" stroke-width="1.4" />
<line x1="1270.7" y1="843.97" x2="1275.5" y2="843.97" stroke="#000" stroke-width="1.4" />
<line x1="1270.7" y1="801.89" x2="1275.5" y2="801.89" stroke="#000" stroke-width="1.4" />
<line x1="1270.7" y1="759.83" x2="1275.5" y2="759.83" stroke="#000" stroke-width="1.4" />
<line x1="1322.58" y1="865" x2="1322.58" y2="855.5" stroke="#000" stroke-width="1.4" />
<line x1="1374.46" y1="865" x2="1374.46" y2="855.5" stroke="#000" stroke-width="1.4" />
<line x1="1426.34" y1="865" x2="1426.34" y2="855.5" stroke="#000" stroke-width="1.4" />
<line x1="1296.64" y1="865" x2="1296.64" y2="860.2" stroke="#000" stroke-width="1.4" />
<line x1="1348.52" y1="865" x2="1348.52" y2="860.2" stroke="#000" stroke-width="1.4" />
<line x1="1400.4" y1="865" x2="1400.4" y2="860.2" stroke="#000" stroke-width="1.4" />
<text x="1266.5" y="872.5" font-size="21.5" text-anchor="end" fill="#000" font-weight="normal" font-style="normal" transform="translate(0 -52.35) scale(1 1.06)" >0</text>
<text x="1266.5" y="830.43" font-size="21.5" text-anchor="end" fill="#000" font-weight="normal" font-style="normal" transform="translate(0 -49.83) scale(1 1.06)" >10</text>
<text x="1266.5" y="788.36" font-size="21.5" text-anchor="end" fill="#000" font-weight="normal" font-style="normal" transform="translate(0 -47.3) scale(1 1.06)" >20</text>
<text x="1266.5" y="746.29" font-size="21.5" text-anchor="end" fill="#000" font-weight="normal" font-style="normal" transform="translate(0 -44.78) scale(1 1.06)" >30</text>
<text x="1270.7" y="886.3" font-size="21" text-anchor="middle" fill="#000" font-weight="normal" font-style="normal" transform="translate(0 -53.18) scale(1 1.06)" >0</text>
<text x="1322.58" y="886.3" font-size="21" text-anchor="middle" fill="#000" font-weight="normal" font-style="normal" transform="translate(0 -53.18) scale(1 1.06)" >4</text>
<text x="1374.46" y="886.3" font-size="21" text-anchor="middle" fill="#000" font-weight="normal" font-style="normal" transform="translate(0 -53.18) scale(1 1.06)" >8</text>
<text x="1426.34" y="886.3" font-size="21" text-anchor="middle" fill="#000" font-weight="normal" font-style="normal" transform="translate(0 -53.18) scale(1 1.06)" >12</text>
<text x="1355.5" y="903" font-size="21" text-anchor="middle" fill="#000" font-weight="normal" transform="translate(0 -54.18) scale(1 1.06)"><tspan font-style="italic">t</tspan><tspan dy="5" font-size="15">CGT</tspan><tspan dy="-5"> (nm)</tspan></text>
<text x="1235" y="800" font-size="21" text-anchor="middle" fill="#000" font-weight="normal" transform="rotate(-90 1235 800) translate(0 -48) scale(1 1.06)"><tspan font-style="italic">μ</tspan><tspan dy="5.5" font-size="14.5">0</tspan><tspan dy="-5.5" font-style="italic">M</tspan><tspan dy="5.5" font-size="14.5">s</tspan><tspan dy="-5.5" font-style="italic">H</tspan><tspan dy="5.5" font-size="14.5">c</tspan><tspan dy="-5.5"> (mJ cm</tspan><tspan dy="-13.5" font-size="14.5">-3</tspan><tspan dy="13.5" dx="1">)</tspan></text>
<rect x="1061.7" y="534.2" width="385.9" height="385.8" fill="none" stroke="#000" stroke-width="2"/>
<line x1="1061.7" y1="920" x2="1078.7" y2="920" stroke="#000" stroke-width="2" />
<line x1="1061.7" y1="799.35" x2="1078.7" y2="799.35" stroke="#000" stroke-width="2" />
<line x1="1061.7" y1="678.7" x2="1078.7" y2="678.7" stroke="#000" stroke-width="2" />
<line x1="1061.7" y1="558.05" x2="1078.7" y2="558.05" stroke="#000" stroke-width="2" />
<line x1="1180.5" y1="920" x2="1180.5" y2="903.5" stroke="#000" stroke-width="2" />
<line x1="1299.3" y1="920" x2="1299.3" y2="903.5" stroke="#000" stroke-width="2" />
<line x1="1418.1" y1="920" x2="1418.1" y2="903.5" stroke="#000" stroke-width="2" />
<line x1="1121.1" y1="920" x2="1121.1" y2="911" stroke="#000" stroke-width="2" />
<line x1="1239.9" y1="920" x2="1239.9" y2="911" stroke="#000" stroke-width="2" />
<line x1="1358.7" y1="920" x2="1358.7" y2="911" stroke="#000" stroke-width="2" />
<text x="1053" y="931.6" font-size="32" text-anchor="end" fill="#000" font-weight="normal" font-style="normal" transform="translate(0 -55.9) scale(1 1.06)" >0.0</text>
<text x="1053" y="810.95" font-size="32" text-anchor="end" fill="#000" font-weight="normal" font-style="normal" transform="translate(0 -48.66) scale(1 1.06)" >0.5</text>
<text x="1053" y="690.3" font-size="32" text-anchor="end" fill="#000" font-weight="normal" font-style="normal" transform="translate(0 -41.42) scale(1 1.06)" >1.0</text>
<text x="1053" y="569.65" font-size="32" text-anchor="end" fill="#000" font-weight="normal" font-style="normal" transform="translate(0 -34.18) scale(1 1.06)" >1.5</text>
<text x="1061.7" y="958.8" font-size="32" text-anchor="middle" fill="#000" font-weight="normal" font-style="normal" transform="translate(0 -57.53) scale(1 1.06)" >0</text>
<text x="1180.5" y="958.8" font-size="32" text-anchor="middle" fill="#000" font-weight="normal" font-style="normal" transform="translate(0 -57.53) scale(1 1.06)" >4</text>
<text x="1299.3" y="958.8" font-size="32" text-anchor="middle" fill="#000" font-weight="normal" font-style="normal" transform="translate(0 -57.53) scale(1 1.06)" >8</text>
<text x="1418.1" y="958.8" font-size="32" text-anchor="middle" fill="#000" font-weight="normal" font-style="normal" transform="translate(0 -57.53) scale(1 1.06)" >12</text>
<text x="1255" y="994.3" font-size="32" text-anchor="middle" fill="#000" font-weight="normal" transform="translate(0 -59.66) scale(1 1.06)"><tspan font-style="italic">t</tspan><tspan dy="7.5" font-size="22">CGT</tspan><tspan dy="-7.5"> (nm)</tspan></text>
<text x="987.5" y="726" font-size="32" text-anchor="middle" fill="#000" font-weight="normal" transform="rotate(-90 987.5 726) translate(0 -43.56) scale(1 1.06)"><tspan font-style="italic">ξ</tspan><tspan> (nm</tspan><tspan dy="-21.5" font-size="22">-1</tspan><tspan dy="21.5" dx="2">)</tspan></text>
<text x="960.9" y="553" font-size="41" text-anchor="start" fill="#000" font-weight="bold" font-style="normal" >e</text>
</svg>
</body></html>
